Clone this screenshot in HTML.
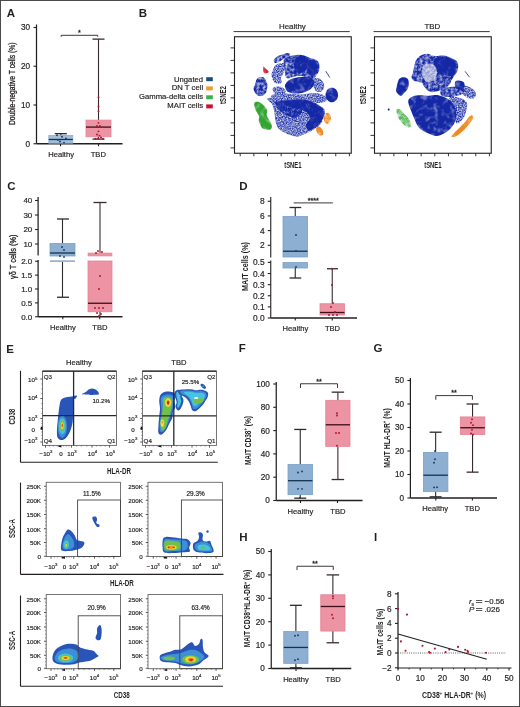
<!DOCTYPE html>
<html><head><meta charset="utf-8"><style>
html,body{margin:0;padding:0;background:#fff;}
svg{display:block;font-family:"Liberation Sans",sans-serif;will-change:transform;}
</style></head><body>
<svg width="520" height="707" viewBox="0 0 520 707">
<defs>
<filter id="spk" filterUnits="userSpaceOnUse" x="230" y="30" width="270" height="130" color-interpolation-filters="sRGB">
<feTurbulence type="fractalNoise" baseFrequency="0.35" numOctaves="2" seed="4" result="n"/>
<feColorMatrix in="n" type="matrix" values="0 0 0 0 0  0 0 0 0 0  0 0 0 0 0  1.5 0 0 0 0.0" result="a"/>
<feComposite in="SourceGraphic" in2="a" operator="in"/>
</filter>
<filter id="spkS" filterUnits="userSpaceOnUse" x="230" y="30" width="270" height="130" color-interpolation-filters="sRGB">
<feTurbulence type="fractalNoise" baseFrequency="0.8" numOctaves="2" seed="7" result="n"/>
<feColorMatrix in="n" type="matrix" values="0 0 0 0 0  0 0 0 0 0  0 0 0 0 0  1.5 0 0 0 -0.15" result="a"/>
<feComposite in="SourceGraphic" in2="a" operator="in"/>
</filter>
<filter id="spkD" filterUnits="userSpaceOnUse" x="230" y="30" width="270" height="130" color-interpolation-filters="sRGB">
<feTurbulence type="fractalNoise" baseFrequency="0.18" numOctaves="2" seed="9" result="n"/>
<feColorMatrix in="n" type="matrix" values="0 0 0 0 0  0 0 0 0 0  0 0 0 0 0  1.2 0 0 0 0.38" result="a"/>
<feComposite in="SourceGraphic" in2="a" operator="in"/>
</filter>
</defs>
<rect x="0" y="0" width="520" height="707" fill="#fff"/>
<rect x="0.5" y="0.5" width="519" height="706" fill="none" stroke="#4a4a4a" stroke-width="1"/>
<text x="6.8" y="16.5" font-size="11.5" font-weight="bold" fill="#231f20">A</text>
<text x="138.8" y="16.8" font-size="11.5" font-weight="bold" fill="#231f20">B</text>
<text x="7.3" y="190.2" font-size="11.5" font-weight="bold" fill="#231f20">C</text>
<text x="239.3" y="190" font-size="11.5" font-weight="bold" fill="#231f20">D</text>
<text x="6.3" y="353" font-size="11.5" font-weight="bold" fill="#231f20">E</text>
<text x="238.8" y="352.2" font-size="11.5" font-weight="bold" fill="#231f20">F</text>
<text x="373.6" y="352.4" font-size="11.5" font-weight="bold" fill="#231f20">G</text>
<text x="239.2" y="541.2" font-size="11.5" font-weight="bold" fill="#231f20">H</text>
<text x="373.9" y="541.2" font-size="11.5" font-weight="bold" fill="#231f20">I</text>
<line x1="36.5" y1="24.5" x2="36.5" y2="143.75" stroke="#231f20" stroke-width="1.25"/>
<line x1="33.5" y1="27.5" x2="36.5" y2="27.5" stroke="#231f20" stroke-width="1.1"/>
<text x="30.1" y="30.4" font-size="8.2" text-anchor="end" fill="#231f20" stroke="#231f20" stroke-width="0.18">30</text>
<line x1="33.5" y1="66.25" x2="36.5" y2="66.25" stroke="#231f20" stroke-width="1.1"/>
<text x="30.1" y="69.15" font-size="8.2" text-anchor="end" fill="#231f20" stroke="#231f20" stroke-width="0.18">20</text>
<line x1="33.5" y1="105.0" x2="36.5" y2="105.0" stroke="#231f20" stroke-width="1.1"/>
<text x="30.1" y="107.9" font-size="8.2" text-anchor="end" fill="#231f20" stroke="#231f20" stroke-width="0.18">10</text>
<line x1="33.5" y1="143.75" x2="36.5" y2="143.75" stroke="#231f20" stroke-width="1.1"/>
<text x="30.1" y="146.65" font-size="8.2" text-anchor="end" fill="#231f20" stroke="#231f20" stroke-width="0.18">0</text>
<line x1="36.5" y1="143.75" x2="122.5" y2="143.75" stroke="#231f20" stroke-width="1.3"/>
<line x1="60.5" y1="143.75" x2="60.5" y2="146.25" stroke="#231f20" stroke-width="1.1"/>
<line x1="98.5" y1="143.75" x2="98.5" y2="146.25" stroke="#231f20" stroke-width="1.1"/>
<text transform="translate(15.3,125) rotate(-90)" font-size="9" font-weight="normal" textLength="82.6" lengthAdjust="spacingAndGlyphs" fill="#231f20" stroke="#231f20" stroke-width="0.3">Double-negative T cells (%)</text>
<line x1="60.8" y1="133.675" x2="60.8" y2="135.41875" stroke="#2a2a2a" stroke-width="1.1"/>
<line x1="54.8" y1="133.675" x2="66.8" y2="133.675" stroke="#2a2a2a" stroke-width="1.3"/>
<line x1="60.8" y1="143.16875" x2="60.8" y2="143.3625" stroke="#2a2a2a" stroke-width="1.1"/>
<line x1="54.8" y1="143.3625" x2="66.8" y2="143.3625" stroke="#2a2a2a" stroke-width="1.3"/>
<rect x="48.8" y="135.41875" width="24.0" height="7.75" fill="#a2bedb" stroke="#8cafd2" stroke-width="0.8"/>
<line x1="48.8" y1="139.4875" x2="72.8" y2="139.4875" stroke="#163252" stroke-width="1.3"/>
<line x1="98.5" y1="39.125" x2="98.5" y2="120.1125" stroke="#3a2a2e" stroke-width="1.1"/>
<line x1="92.5" y1="39.125" x2="104.5" y2="39.125" stroke="#3a2a2e" stroke-width="1.3"/>
<line x1="98.5" y1="136.775" x2="98.5" y2="139.1" stroke="#3a2a2e" stroke-width="1.1"/>
<line x1="92.5" y1="139.1" x2="104.5" y2="139.1" stroke="#3a2a2e" stroke-width="1.3"/>
<rect x="86" y="120.1125" width="25" height="16.66250000000001" fill="#ec93a4" stroke="#e58296" stroke-width="0.8"/>
<line x1="86" y1="127.0875" x2="111" y2="127.0875" stroke="#3d0f1a" stroke-width="1.3"/>
<path d="M61.2,36.8 L61.2,35.3 L97.7,35.3 L97.7,36.8" fill="none" stroke="#3a3a3a" stroke-width="1"/>
<text x="79.45" y="35.099999999999994" font-size="7.2" text-anchor="middle" fill="#231f20" stroke="#231f20" stroke-width="0.3">*</text>
<text x="61.1" y="156.9" font-size="7.6" text-anchor="middle" fill="#231f20" stroke="#231f20" stroke-width="0.18">Healthy</text>
<text x="98.3" y="156.9" font-size="7.6" text-anchor="middle" fill="#231f20" stroke="#231f20" stroke-width="0.18">TBD</text>
<circle cx="57" cy="135.225" r="0.95" fill="#1a3a6e"/>
<circle cx="62" cy="136.775" r="0.95" fill="#1a3a6e"/>
<circle cx="66" cy="138.325" r="0.95" fill="#1a3a6e"/>
<circle cx="60" cy="141.425" r="0.95" fill="#1a3a6e"/>
<circle cx="64" cy="142.5875" r="0.95" fill="#1a3a6e"/>
<circle cx="58" cy="139.875" r="0.95" fill="#1a3a6e"/>
<circle cx="98.5" cy="97.25" r="0.95" fill="#b0102c"/>
<circle cx="98.5" cy="106.55000000000001" r="0.95" fill="#b0102c"/>
<circle cx="98.5" cy="111.19999999999999" r="0.95" fill="#b0102c"/>
<circle cx="98.5" cy="122.825" r="0.95" fill="#b0102c"/>
<circle cx="97" cy="125.925" r="0.95" fill="#b0102c"/>
<circle cx="100" cy="125.925" r="0.95" fill="#b0102c"/>
<circle cx="98.5" cy="131.35" r="0.95" fill="#b0102c"/>
<circle cx="97" cy="134.45" r="0.95" fill="#b0102c"/>
<circle cx="99.5" cy="135.6125" r="0.95" fill="#b0102c"/>
<circle cx="95.5" cy="138.7125" r="0.95" fill="#b0102c"/>
<circle cx="98" cy="138.325" r="0.95" fill="#b0102c"/>
<circle cx="101" cy="137.55" r="0.95" fill="#b0102c"/>
<circle cx="103" cy="138.7125" r="0.95" fill="#b0102c"/>
<line x1="38.1" y1="197" x2="38.1" y2="255.5" stroke="#231f20" stroke-width="1.25"/>
<line x1="38.1" y1="260" x2="38.1" y2="316.75" stroke="#231f20" stroke-width="1.25"/>
<line x1="35.1" y1="200.5" x2="38.1" y2="200.5" stroke="#231f20" stroke-width="1.1"/>
<text x="32.3" y="203.4" font-size="8.0" text-anchor="end" fill="#231f20" stroke="#231f20" stroke-width="0.18">40</text>
<line x1="35.1" y1="215.0" x2="38.1" y2="215.0" stroke="#231f20" stroke-width="1.1"/>
<text x="32.3" y="217.9" font-size="8.0" text-anchor="end" fill="#231f20" stroke="#231f20" stroke-width="0.18">30</text>
<line x1="35.1" y1="229.5" x2="38.1" y2="229.5" stroke="#231f20" stroke-width="1.1"/>
<text x="32.3" y="232.4" font-size="8.0" text-anchor="end" fill="#231f20" stroke="#231f20" stroke-width="0.18">20</text>
<line x1="35.1" y1="244.0" x2="38.1" y2="244.0" stroke="#231f20" stroke-width="1.1"/>
<text x="32.3" y="246.9" font-size="8.0" text-anchor="end" fill="#231f20" stroke="#231f20" stroke-width="0.18">10</text>
<line x1="35.1" y1="261.25" x2="38.1" y2="261.25" stroke="#231f20" stroke-width="1.1"/>
<text x="32.3" y="264.15" font-size="8.0" text-anchor="end" fill="#231f20" stroke="#231f20" stroke-width="0.18">2.0</text>
<line x1="35.1" y1="275.125" x2="38.1" y2="275.125" stroke="#231f20" stroke-width="1.1"/>
<text x="32.3" y="278.025" font-size="8.0" text-anchor="end" fill="#231f20" stroke="#231f20" stroke-width="0.18">1.5</text>
<line x1="35.1" y1="289.0" x2="38.1" y2="289.0" stroke="#231f20" stroke-width="1.1"/>
<text x="32.3" y="291.9" font-size="8.0" text-anchor="end" fill="#231f20" stroke="#231f20" stroke-width="0.18">1.0</text>
<line x1="35.1" y1="302.875" x2="38.1" y2="302.875" stroke="#231f20" stroke-width="1.1"/>
<text x="32.3" y="305.775" font-size="8.0" text-anchor="end" fill="#231f20" stroke="#231f20" stroke-width="0.18">0.5</text>
<line x1="35.1" y1="316.75" x2="38.1" y2="316.75" stroke="#231f20" stroke-width="1.1"/>
<text x="32.3" y="319.65" font-size="8.0" text-anchor="end" fill="#231f20" stroke="#231f20" stroke-width="0.18">0.0</text>
<line x1="38.1" y1="316.75" x2="122.5" y2="316.75" stroke="#231f20" stroke-width="1.3"/>
<line x1="62.8" y1="316.75" x2="62.8" y2="319.25" stroke="#231f20" stroke-width="1.1"/>
<line x1="99.7" y1="316.75" x2="99.7" y2="319.25" stroke="#231f20" stroke-width="1.1"/>
<text transform="translate(16.2,279) rotate(-90)" font-size="8.5" font-weight="normal" textLength="44.5" lengthAdjust="spacingAndGlyphs" fill="#231f20" stroke="#231f20" stroke-width="0.3">γδ T cells (%)</text>
<text x="62.85" y="330.1" font-size="7.6" text-anchor="middle" fill="#231f20" stroke="#231f20" stroke-width="0.18">Healthy</text>
<text x="99.85" y="330.1" font-size="7.6" text-anchor="middle" fill="#231f20" stroke="#231f20" stroke-width="0.18">TBD</text>
<line x1="62.5" y1="219" x2="62.5" y2="243.5" stroke="#2a2a2a" stroke-width="1.1"/>
<line x1="57" y1="219" x2="69" y2="219" stroke="#2a2a2a" stroke-width="1.3"/>
<rect x="50" y="243.5" width="25" height="12.5" fill="#8cafd2" stroke="#7aa0c8" stroke-width="0.8"/>
<line x1="50" y1="253" x2="75" y2="253" stroke="#163252" stroke-width="1.3"/>
<rect x="50" y="260.5" width="25" height="1.5" fill="#8cafd2" stroke="none" stroke-width="1"/>
<line x1="50" y1="261.2" x2="75" y2="261.2" stroke="#9ab5d2" stroke-width="1.4"/>
<line x1="62.5" y1="262" x2="62.5" y2="297.25" stroke="#2a2a2a" stroke-width="1.1"/>
<line x1="57" y1="297.25" x2="69" y2="297.25" stroke="#2a2a2a" stroke-width="1.3"/>
<circle cx="62" cy="247" r="0.95" fill="#1a3a6e"/>
<circle cx="64" cy="250" r="0.95" fill="#1a3a6e"/>
<circle cx="60" cy="256" r="0.95" fill="#1a3a6e"/>
<circle cx="64" cy="257" r="0.95" fill="#1a3a6e"/>
<line x1="100" y1="202.5" x2="100" y2="253" stroke="#3a2a2e" stroke-width="1.1"/>
<line x1="93.5" y1="202.5" x2="106.5" y2="202.5" stroke="#3a2a2e" stroke-width="1.3"/>
<rect x="88" y="253" width="24" height="3" fill="#ec93a4" stroke="#e58296" stroke-width="0.6"/>
<rect x="88" y="261" width="24" height="50.75" fill="#ec93a4" stroke="#e58296" stroke-width="0.8"/>
<line x1="88" y1="303.25" x2="112" y2="303.25" stroke="#3d0f1a" stroke-width="1.3"/>
<line x1="100" y1="311.75" x2="100" y2="316" stroke="#3a2a2e" stroke-width="1.1"/>
<circle cx="98" cy="251" r="0.95" fill="#b0102c"/>
<circle cx="102" cy="252" r="0.95" fill="#b0102c"/>
<circle cx="96" cy="253" r="0.95" fill="#b0102c"/>
<circle cx="100" cy="276" r="0.95" fill="#b0102c"/>
<circle cx="99" cy="289" r="0.95" fill="#b0102c"/>
<circle cx="95" cy="308" r="0.95" fill="#b0102c"/>
<circle cx="99" cy="308" r="0.95" fill="#b0102c"/>
<circle cx="103" cy="308" r="0.95" fill="#b0102c"/>
<circle cx="97" cy="313" r="0.95" fill="#b0102c"/>
<circle cx="101" cy="314" r="0.95" fill="#b0102c"/>
<circle cx="99" cy="316" r="0.95" fill="#b0102c"/>
<line x1="270.75" y1="197" x2="270.75" y2="257.5" stroke="#231f20" stroke-width="1.1"/>
<line x1="270.75" y1="260.5" x2="270.75" y2="318" stroke="#231f20" stroke-width="1.1"/>
<line x1="267.75" y1="201.26999999999998" x2="270.75" y2="201.26999999999998" stroke="#231f20" stroke-width="1.1"/>
<text x="264.6" y="204.26999999999998" font-size="8.4" text-anchor="end" fill="#231f20" stroke="#231f20" stroke-width="0.18">8</text>
<line x1="267.75" y1="215.93" x2="270.75" y2="215.93" stroke="#231f20" stroke-width="1.1"/>
<text x="264.6" y="218.93" font-size="8.4" text-anchor="end" fill="#231f20" stroke="#231f20" stroke-width="0.18">6</text>
<line x1="267.75" y1="230.59" x2="270.75" y2="230.59" stroke="#231f20" stroke-width="1.1"/>
<text x="264.6" y="233.59" font-size="8.4" text-anchor="end" fill="#231f20" stroke="#231f20" stroke-width="0.18">4</text>
<line x1="267.75" y1="245.25" x2="270.75" y2="245.25" stroke="#231f20" stroke-width="1.1"/>
<text x="264.6" y="248.25" font-size="8.4" text-anchor="end" fill="#231f20" stroke="#231f20" stroke-width="0.18">2</text>
<line x1="267.75" y1="262.4" x2="270.75" y2="262.4" stroke="#231f20" stroke-width="1.1"/>
<text x="264.6" y="265.4" font-size="8.4" text-anchor="end" fill="#231f20" stroke="#231f20" stroke-width="0.18">0.5</text>
<line x1="267.75" y1="273.52" x2="270.75" y2="273.52" stroke="#231f20" stroke-width="1.1"/>
<text x="264.6" y="276.52" font-size="8.4" text-anchor="end" fill="#231f20" stroke="#231f20" stroke-width="0.18">0.4</text>
<line x1="267.75" y1="284.64" x2="270.75" y2="284.64" stroke="#231f20" stroke-width="1.1"/>
<text x="264.6" y="287.64" font-size="8.4" text-anchor="end" fill="#231f20" stroke="#231f20" stroke-width="0.18">0.3</text>
<line x1="267.75" y1="295.76" x2="270.75" y2="295.76" stroke="#231f20" stroke-width="1.1"/>
<text x="264.6" y="298.76" font-size="8.4" text-anchor="end" fill="#231f20" stroke="#231f20" stroke-width="0.18">0.2</text>
<line x1="267.75" y1="306.88" x2="270.75" y2="306.88" stroke="#231f20" stroke-width="1.1"/>
<text x="264.6" y="309.88" font-size="8.4" text-anchor="end" fill="#231f20" stroke="#231f20" stroke-width="0.18">0.1</text>
<line x1="267.75" y1="318.0" x2="270.75" y2="318.0" stroke="#231f20" stroke-width="1.1"/>
<text x="264.6" y="321.0" font-size="8.4" text-anchor="end" fill="#231f20" stroke="#231f20" stroke-width="0.18">0.0</text>
<line x1="270.75" y1="318" x2="357" y2="318" stroke="#231f20" stroke-width="1.3"/>
<line x1="295.25" y1="318" x2="295.25" y2="320.5" stroke="#231f20" stroke-width="1.1"/>
<line x1="332.25" y1="318" x2="332.25" y2="320.5" stroke="#231f20" stroke-width="1.1"/>
<text transform="translate(247.5,291) rotate(-90)" font-size="8.8" font-weight="bold" textLength="49" lengthAdjust="spacingAndGlyphs" fill="#231f20">MAIT cells (%)</text>
<text x="295.4" y="330.8" font-size="7.6" text-anchor="middle" fill="#231f20" stroke="#231f20" stroke-width="0.18">Healthy</text>
<text x="332.5" y="330.8" font-size="7.6" text-anchor="middle" fill="#231f20" stroke="#231f20" stroke-width="0.18">TBD</text>
<path d="M293.7,202.9 L293.7,202.9 L332.9,202.9 L332.9,202.9" fill="none" stroke="#3a3a3a" stroke-width="1"/>
<text x="313.29999999999995" y="202.70000000000002" font-size="7.2" text-anchor="middle" fill="#231f20" stroke="#231f20" stroke-width="0.3">****</text>
<line x1="295.25" y1="207.5" x2="295.25" y2="216.5" stroke="#2a2a2a" stroke-width="1.1"/>
<line x1="289.5" y1="207.5" x2="301.25" y2="207.5" stroke="#2a2a2a" stroke-width="1.3"/>
<rect x="283" y="216.5" width="24.5" height="40.5" fill="#8cafd2" stroke="#7aa0c8" stroke-width="0.8"/>
<line x1="283" y1="251.25" x2="307.5" y2="251.25" stroke="#163252" stroke-width="1.3"/>
<rect x="283" y="262.5" width="24.5" height="5.5" fill="#8cafd2" stroke="#7aa0c8" stroke-width="0.8"/>
<line x1="295.25" y1="268" x2="295.25" y2="278" stroke="#2a2a2a" stroke-width="1.1"/>
<line x1="289.5" y1="278" x2="301.25" y2="278" stroke="#2a2a2a" stroke-width="1.3"/>
<circle cx="296" cy="235" r="0.95" fill="#1a3a6e"/>
<circle cx="296" cy="251" r="0.95" fill="#1a3a6e"/>
<circle cx="296" cy="267" r="0.95" fill="#1a3a6e"/>
<line x1="332.25" y1="268.75" x2="332.25" y2="303.75" stroke="#3a2a2e" stroke-width="1.1"/>
<line x1="327" y1="268.75" x2="338" y2="268.75" stroke="#3a2a2e" stroke-width="1.3"/>
<rect x="320" y="303.75" width="24.5" height="11.25" fill="#ec93a4" stroke="#e58296" stroke-width="0.8"/>
<line x1="320" y1="312.5" x2="344.5" y2="312.5" stroke="#3d0f1a" stroke-width="1.3"/>
<circle cx="332" cy="268.75" r="0.95" fill="#b0102c"/>
<circle cx="332" cy="285" r="0.95" fill="#b0102c"/>
<circle cx="333" cy="303" r="0.95" fill="#b0102c"/>
<circle cx="331" cy="307" r="0.95" fill="#b0102c"/>
<circle cx="329" cy="315" r="0.95" fill="#b0102c"/>
<circle cx="333" cy="315" r="0.95" fill="#b0102c"/>
<circle cx="337" cy="315" r="0.95" fill="#b0102c"/>
<circle cx="335" cy="312" r="0.95" fill="#b0102c"/>
<line x1="276.25" y1="382" x2="276.25" y2="500.5" stroke="#231f20" stroke-width="1.25"/>
<line x1="273.25" y1="384.0" x2="276.25" y2="384.0" stroke="#231f20" stroke-width="1.1"/>
<text x="269.85" y="386.9" font-size="8.2" text-anchor="end" fill="#231f20" stroke="#231f20" stroke-width="0.18">100</text>
<line x1="273.25" y1="407.3" x2="276.25" y2="407.3" stroke="#231f20" stroke-width="1.1"/>
<text x="269.85" y="410.2" font-size="8.2" text-anchor="end" fill="#231f20" stroke="#231f20" stroke-width="0.18">80</text>
<line x1="273.25" y1="430.6" x2="276.25" y2="430.6" stroke="#231f20" stroke-width="1.1"/>
<text x="269.85" y="433.5" font-size="8.2" text-anchor="end" fill="#231f20" stroke="#231f20" stroke-width="0.18">60</text>
<line x1="273.25" y1="453.9" x2="276.25" y2="453.9" stroke="#231f20" stroke-width="1.1"/>
<text x="269.85" y="456.79999999999995" font-size="8.2" text-anchor="end" fill="#231f20" stroke="#231f20" stroke-width="0.18">40</text>
<line x1="273.25" y1="477.2" x2="276.25" y2="477.2" stroke="#231f20" stroke-width="1.1"/>
<text x="269.85" y="480.09999999999997" font-size="8.2" text-anchor="end" fill="#231f20" stroke="#231f20" stroke-width="0.18">20</text>
<line x1="273.25" y1="500.5" x2="276.25" y2="500.5" stroke="#231f20" stroke-width="1.1"/>
<text x="269.85" y="503.4" font-size="8.2" text-anchor="end" fill="#231f20" stroke="#231f20" stroke-width="0.18">0</text>
<line x1="276.25" y1="500.5" x2="362.5" y2="500.5" stroke="#231f20" stroke-width="1.3"/>
<line x1="300.5" y1="500.5" x2="300.5" y2="503.0" stroke="#231f20" stroke-width="1.1"/>
<line x1="337.5" y1="500.5" x2="337.5" y2="503.0" stroke="#231f20" stroke-width="1.1"/>
<text transform="translate(250.5,465.1) rotate(-90)" font-size="8.8" font-weight="bold" textLength="49" lengthAdjust="spacingAndGlyphs" fill="#231f20">MAIT CD38<tspan dy="-3.2" font-size="5.5">+</tspan><tspan dy="3.2"> (%)</tspan></text>
<text x="300.4" y="513.5" font-size="7.6" text-anchor="middle" fill="#231f20" stroke="#231f20" stroke-width="0.18">Healthy</text>
<text x="337.9" y="513.5" font-size="7.6" text-anchor="middle" fill="#231f20" stroke="#231f20" stroke-width="0.18">TBD</text>
<path d="M300.5,387.95 L300.5,383.75 L337.5,383.75 L337.5,387.95" fill="none" stroke="#3a3a3a" stroke-width="1"/>
<text x="319.0" y="383.55" font-size="7.2" text-anchor="middle" fill="#231f20" stroke="#231f20" stroke-width="0.3">**</text>
<line x1="300.25" y1="429.435" x2="300.25" y2="464.385" stroke="#2a2a2a" stroke-width="1.1"/>
<line x1="294.25" y1="429.435" x2="306.25" y2="429.435" stroke="#2a2a2a" stroke-width="1.3"/>
<line x1="300.25" y1="494.675" x2="300.25" y2="498.17" stroke="#2a2a2a" stroke-width="1.1"/>
<line x1="294.25" y1="498.17" x2="306.25" y2="498.17" stroke="#2a2a2a" stroke-width="1.3"/>
<rect x="288" y="464.385" width="24.5" height="30.29000000000002" fill="#8cafd2" stroke="#7aa0c8" stroke-width="0.8"/>
<line x1="288" y1="480.695" x2="312.5" y2="480.695" stroke="#163252" stroke-width="1.3"/>
<line x1="337.875" y1="392.155" x2="337.875" y2="400.31" stroke="#3a2a2e" stroke-width="1.1"/>
<line x1="331.625" y1="392.155" x2="344.125" y2="392.155" stroke="#3a2a2e" stroke-width="1.3"/>
<line x1="337.875" y1="446.3275" x2="337.875" y2="479.53" stroke="#3a2a2e" stroke-width="1.1"/>
<line x1="331.625" y1="479.53" x2="344.125" y2="479.53" stroke="#3a2a2e" stroke-width="1.3"/>
<rect x="325.75" y="400.31" width="24.25" height="46.017499999999984" fill="#ec93a4" stroke="#e58296" stroke-width="0.8"/>
<line x1="325.75" y1="424.775" x2="350" y2="424.775" stroke="#3d0f1a" stroke-width="1.3"/>
<circle cx="298" cy="472.54" r="0.95" fill="#1a3a6e"/>
<circle cx="302" cy="471.375" r="0.95" fill="#1a3a6e"/>
<circle cx="298" cy="488.85" r="0.95" fill="#1a3a6e"/>
<circle cx="302" cy="488.85" r="0.95" fill="#1a3a6e"/>
<circle cx="300" cy="497.5875" r="0.95" fill="#1a3a6e"/>
<circle cx="337" cy="413.125" r="0.95" fill="#b0102c"/>
<circle cx="337" cy="415.455" r="0.95" fill="#b0102c"/>
<circle cx="336" cy="432.93" r="0.95" fill="#b0102c"/>
<circle cx="339" cy="432.93" r="0.95" fill="#b0102c"/>
<circle cx="337" cy="445.745" r="0.95" fill="#b0102c"/>
<line x1="410.4" y1="378" x2="410.4" y2="498" stroke="#231f20" stroke-width="1.25"/>
<line x1="407.4" y1="380.5" x2="410.4" y2="380.5" stroke="#231f20" stroke-width="1.1"/>
<text x="404.0" y="383.4" font-size="8.2" text-anchor="end" fill="#231f20" stroke="#231f20" stroke-width="0.18">50</text>
<line x1="407.4" y1="404.0" x2="410.4" y2="404.0" stroke="#231f20" stroke-width="1.1"/>
<text x="404.0" y="406.9" font-size="8.2" text-anchor="end" fill="#231f20" stroke="#231f20" stroke-width="0.18">40</text>
<line x1="407.4" y1="427.5" x2="410.4" y2="427.5" stroke="#231f20" stroke-width="1.1"/>
<text x="404.0" y="430.4" font-size="8.2" text-anchor="end" fill="#231f20" stroke="#231f20" stroke-width="0.18">30</text>
<line x1="407.4" y1="451.0" x2="410.4" y2="451.0" stroke="#231f20" stroke-width="1.1"/>
<text x="404.0" y="453.9" font-size="8.2" text-anchor="end" fill="#231f20" stroke="#231f20" stroke-width="0.18">20</text>
<line x1="407.4" y1="474.5" x2="410.4" y2="474.5" stroke="#231f20" stroke-width="1.1"/>
<text x="404.0" y="477.4" font-size="8.2" text-anchor="end" fill="#231f20" stroke="#231f20" stroke-width="0.18">10</text>
<line x1="407.4" y1="498.0" x2="410.4" y2="498.0" stroke="#231f20" stroke-width="1.1"/>
<text x="404.0" y="500.9" font-size="8.2" text-anchor="end" fill="#231f20" stroke="#231f20" stroke-width="0.18">0</text>
<line x1="410.4" y1="498" x2="497" y2="498" stroke="#231f20" stroke-width="1.3"/>
<line x1="435.8" y1="498" x2="435.8" y2="500.5" stroke="#231f20" stroke-width="1.1"/>
<line x1="472.4" y1="498" x2="472.4" y2="500.5" stroke="#231f20" stroke-width="1.1"/>
<text transform="translate(389.5,467.7) rotate(-90)" font-size="8.8" font-weight="bold" textLength="59.5" lengthAdjust="spacingAndGlyphs" fill="#231f20">MAIT HLA-DR<tspan dy="-3.2" font-size="5.5">+</tspan><tspan dy="3.2"> (%)</tspan></text>
<text x="435.2" y="510.8" font-size="7.6" text-anchor="middle" fill="#231f20" stroke="#231f20" stroke-width="0.18">Healthy</text>
<text x="472.3" y="510.8" font-size="7.6" text-anchor="middle" fill="#231f20" stroke="#231f20" stroke-width="0.18">TBD</text>
<path d="M435.8,399.8 L435.8,395.6 L472.4,395.6 L472.4,399.8" fill="none" stroke="#3a3a3a" stroke-width="1"/>
<text x="454.1" y="395.40000000000003" font-size="7.2" text-anchor="middle" fill="#231f20" stroke="#231f20" stroke-width="0.3">**</text>
<line x1="435.65" y1="432.2" x2="435.65" y2="452.41" stroke="#2a2a2a" stroke-width="1.1"/>
<line x1="429.65" y1="432.2" x2="441.65" y2="432.2" stroke="#2a2a2a" stroke-width="1.3"/>
<line x1="435.65" y1="491.655" x2="435.65" y2="496.825" stroke="#2a2a2a" stroke-width="1.1"/>
<line x1="429.65" y1="496.825" x2="441.65" y2="496.825" stroke="#2a2a2a" stroke-width="1.3"/>
<rect x="423.4" y="452.41" width="24.5" height="39.24499999999995" fill="#8cafd2" stroke="#7aa0c8" stroke-width="0.8"/>
<line x1="423.4" y1="475.205" x2="447.9" y2="475.205" stroke="#163252" stroke-width="1.3"/>
<line x1="472.55" y1="404.0" x2="472.55" y2="416.925" stroke="#3a2a2e" stroke-width="1.1"/>
<line x1="466.55" y1="404.0" x2="478.55" y2="404.0" stroke="#3a2a2e" stroke-width="1.3"/>
<line x1="472.55" y1="434.55" x2="472.55" y2="472.15" stroke="#3a2a2e" stroke-width="1.1"/>
<line x1="466.55" y1="472.15" x2="478.55" y2="472.15" stroke="#3a2a2e" stroke-width="1.3"/>
<rect x="460.3" y="416.925" width="24.5" height="17.625" fill="#ec93a4" stroke="#e58296" stroke-width="0.8"/>
<line x1="460.3" y1="427.735" x2="484.8" y2="427.735" stroke="#3d0f1a" stroke-width="1.3"/>
<circle cx="435" cy="451.0" r="0.95" fill="#1a3a6e"/>
<circle cx="435" cy="459.225" r="0.95" fill="#1a3a6e"/>
<circle cx="434" cy="462.75" r="0.95" fill="#1a3a6e"/>
<circle cx="434" cy="487.425" r="0.95" fill="#1a3a6e"/>
<circle cx="437" cy="487.19" r="0.95" fill="#1a3a6e"/>
<circle cx="436" cy="496.825" r="0.95" fill="#1a3a6e"/>
<circle cx="472" cy="419.275" r="0.95" fill="#b0102c"/>
<circle cx="471" cy="422.8" r="0.95" fill="#b0102c"/>
<circle cx="473" cy="425.15" r="0.95" fill="#b0102c"/>
<circle cx="472" cy="429.85" r="0.95" fill="#b0102c"/>
<circle cx="471" cy="433.375" r="0.95" fill="#b0102c"/>
<circle cx="473" cy="434.55" r="0.95" fill="#b0102c"/>
<line x1="271.25" y1="549" x2="271.25" y2="668.5" stroke="#231f20" stroke-width="1.25"/>
<line x1="268.25" y1="551.5" x2="271.25" y2="551.5" stroke="#231f20" stroke-width="1.1"/>
<text x="264.85" y="554.4" font-size="8.2" text-anchor="end" fill="#231f20" stroke="#231f20" stroke-width="0.18">50</text>
<line x1="268.25" y1="574.9" x2="271.25" y2="574.9" stroke="#231f20" stroke-width="1.1"/>
<text x="264.85" y="577.8" font-size="8.2" text-anchor="end" fill="#231f20" stroke="#231f20" stroke-width="0.18">40</text>
<line x1="268.25" y1="598.3" x2="271.25" y2="598.3" stroke="#231f20" stroke-width="1.1"/>
<text x="264.85" y="601.1999999999999" font-size="8.2" text-anchor="end" fill="#231f20" stroke="#231f20" stroke-width="0.18">30</text>
<line x1="268.25" y1="621.7" x2="271.25" y2="621.7" stroke="#231f20" stroke-width="1.1"/>
<text x="264.85" y="624.6" font-size="8.2" text-anchor="end" fill="#231f20" stroke="#231f20" stroke-width="0.18">20</text>
<line x1="268.25" y1="645.1" x2="271.25" y2="645.1" stroke="#231f20" stroke-width="1.1"/>
<text x="264.85" y="648.0" font-size="8.2" text-anchor="end" fill="#231f20" stroke="#231f20" stroke-width="0.18">10</text>
<line x1="268.25" y1="668.5" x2="271.25" y2="668.5" stroke="#231f20" stroke-width="1.1"/>
<text x="264.85" y="671.4" font-size="8.2" text-anchor="end" fill="#231f20" stroke="#231f20" stroke-width="0.18">0</text>
<line x1="271.25" y1="668.5" x2="351.25" y2="668.5" stroke="#231f20" stroke-width="1.3"/>
<line x1="296" y1="668.5" x2="296" y2="671.0" stroke="#231f20" stroke-width="1.1"/>
<line x1="333" y1="668.5" x2="333" y2="671.0" stroke="#231f20" stroke-width="1.1"/>
<text transform="translate(250,647.2) rotate(-90)" font-size="8.8" font-weight="bold" textLength="77.5" lengthAdjust="spacingAndGlyphs" fill="#231f20">MAIT CD38<tspan dy="-3.2" font-size="5.5">+</tspan><tspan dy="3.2">HLA-DR</tspan><tspan dy="-3.2" font-size="5.5">+</tspan><tspan dy="3.2"> (%)</tspan></text>
<text x="296" y="681.5" font-size="7.6" text-anchor="middle" fill="#231f20" stroke="#231f20" stroke-width="0.18">Healthy</text>
<text x="333.2" y="681.5" font-size="7.6" text-anchor="middle" fill="#231f20" stroke="#231f20" stroke-width="0.18">TBD</text>
<path d="M297,570.05 L297,566.25 L333.25,566.25 L333.25,570.05" fill="none" stroke="#3a3a3a" stroke-width="1"/>
<text x="315.125" y="566.05" font-size="7.2" text-anchor="middle" fill="#231f20" stroke="#231f20" stroke-width="0.3">**</text>
<line x1="295.875" y1="605.32" x2="295.875" y2="631.528" stroke="#2a2a2a" stroke-width="1.1"/>
<line x1="289.875" y1="605.32" x2="301.875" y2="605.32" stroke="#2a2a2a" stroke-width="1.3"/>
<line x1="295.875" y1="663.352" x2="295.875" y2="667.798" stroke="#2a2a2a" stroke-width="1.1"/>
<line x1="289.875" y1="667.798" x2="301.875" y2="667.798" stroke="#2a2a2a" stroke-width="1.3"/>
<rect x="283.75" y="631.528" width="24.25" height="31.823999999999955" fill="#8cafd2" stroke="#7aa0c8" stroke-width="0.8"/>
<line x1="283.75" y1="647.44" x2="308" y2="647.44" stroke="#163252" stroke-width="1.3"/>
<line x1="332.875" y1="574.9" x2="332.875" y2="594.79" stroke="#3a2a2e" stroke-width="1.1"/>
<line x1="326.625" y1="574.9" x2="339.125" y2="574.9" stroke="#3a2a2e" stroke-width="1.3"/>
<line x1="332.875" y1="631.06" x2="332.875" y2="642.76" stroke="#3a2a2e" stroke-width="1.1"/>
<line x1="326.625" y1="642.76" x2="339.125" y2="642.76" stroke="#3a2a2e" stroke-width="1.3"/>
<rect x="320.75" y="594.79" width="24.25" height="36.26999999999998" fill="#ec93a4" stroke="#e58296" stroke-width="0.8"/>
<line x1="320.75" y1="606.49" x2="345" y2="606.49" stroke="#3d0f1a" stroke-width="1.3"/>
<circle cx="295" cy="635.74" r="0.95" fill="#1a3a6e"/>
<circle cx="298" cy="635.272" r="0.95" fill="#1a3a6e"/>
<circle cx="295" cy="660.31" r="0.95" fill="#1a3a6e"/>
<circle cx="298" cy="659.14" r="0.95" fill="#1a3a6e"/>
<circle cx="296" cy="667.564" r="0.95" fill="#1a3a6e"/>
<circle cx="333" cy="595.96" r="0.95" fill="#b0102c"/>
<circle cx="333" cy="598.3" r="0.95" fill="#b0102c"/>
<circle cx="332" cy="614.6800000000001" r="0.95" fill="#b0102c"/>
<circle cx="333" cy="618.19" r="0.95" fill="#b0102c"/>
<line x1="398" y1="592" x2="398" y2="668.5" stroke="#231f20" stroke-width="1.25"/>
<line x1="395" y1="593.8" x2="398" y2="593.8" stroke="#231f20" stroke-width="1.1"/>
<text x="391.6" y="596.6999999999999" font-size="8.2" text-anchor="end" fill="#231f20" stroke="#231f20" stroke-width="0.18">8</text>
<line x1="395" y1="608.6" x2="398" y2="608.6" stroke="#231f20" stroke-width="1.1"/>
<text x="391.6" y="611.5" font-size="8.2" text-anchor="end" fill="#231f20" stroke="#231f20" stroke-width="0.18">6</text>
<line x1="395" y1="623.4" x2="398" y2="623.4" stroke="#231f20" stroke-width="1.1"/>
<text x="391.6" y="626.3" font-size="8.2" text-anchor="end" fill="#231f20" stroke="#231f20" stroke-width="0.18">4</text>
<line x1="395" y1="638.2" x2="398" y2="638.2" stroke="#231f20" stroke-width="1.1"/>
<text x="391.6" y="641.1" font-size="8.2" text-anchor="end" fill="#231f20" stroke="#231f20" stroke-width="0.18">2</text>
<line x1="395" y1="653.0" x2="398" y2="653.0" stroke="#231f20" stroke-width="1.1"/>
<text x="391.6" y="655.9" font-size="8.2" text-anchor="end" fill="#231f20" stroke="#231f20" stroke-width="0.18">0</text>
<line x1="395" y1="667.8" x2="398" y2="667.8" stroke="#231f20" stroke-width="1.1"/>
<text x="391.6" y="670.6999999999999" font-size="8.2" text-anchor="end" fill="#231f20" stroke="#231f20" stroke-width="0.18">−2</text>
<line x1="398" y1="668" x2="511.5" y2="668" stroke="#231f20" stroke-width="1.1"/>
<line x1="398.0" y1="668" x2="398.0" y2="670.5" stroke="#231f20" stroke-width="1.1"/>
<text x="398.0" y="681" font-size="8.2" text-anchor="middle" fill="#231f20" stroke="#231f20" stroke-width="0.18">0</text>
<line x1="420.2" y1="668" x2="420.2" y2="670.5" stroke="#231f20" stroke-width="1.1"/>
<text x="420.2" y="681" font-size="8.2" text-anchor="middle" fill="#231f20" stroke="#231f20" stroke-width="0.18">10</text>
<line x1="442.4" y1="668" x2="442.4" y2="670.5" stroke="#231f20" stroke-width="1.1"/>
<text x="442.4" y="681" font-size="8.2" text-anchor="middle" fill="#231f20" stroke="#231f20" stroke-width="0.18">20</text>
<line x1="464.6" y1="668" x2="464.6" y2="670.5" stroke="#231f20" stroke-width="1.1"/>
<text x="464.6" y="681" font-size="8.2" text-anchor="middle" fill="#231f20" stroke="#231f20" stroke-width="0.18">30</text>
<line x1="486.8" y1="668" x2="486.8" y2="670.5" stroke="#231f20" stroke-width="1.1"/>
<text x="486.8" y="681" font-size="8.2" text-anchor="middle" fill="#231f20" stroke="#231f20" stroke-width="0.18">40</text>
<line x1="509.0" y1="668" x2="509.0" y2="670.5" stroke="#231f20" stroke-width="1.1"/>
<text x="509.0" y="681" font-size="8.2" text-anchor="middle" fill="#231f20" stroke="#231f20" stroke-width="0.18">50</text>
<line x1="409.1" y1="668" x2="409.1" y2="669.5" stroke="#231f20" stroke-width="0.8"/>
<line x1="431.3" y1="668" x2="431.3" y2="669.5" stroke="#231f20" stroke-width="0.8"/>
<line x1="453.5" y1="668" x2="453.5" y2="669.5" stroke="#231f20" stroke-width="0.8"/>
<line x1="475.7" y1="668" x2="475.7" y2="669.5" stroke="#231f20" stroke-width="0.8"/>
<line x1="497.9" y1="668" x2="497.9" y2="669.5" stroke="#231f20" stroke-width="0.8"/>
<text transform="translate(382.8,655.6) rotate(-90)" font-size="8.8" font-weight="bold" textLength="47" lengthAdjust="spacingAndGlyphs" fill="#231f20">MAIT cells (%)</text>
<text x="422.0" y="697.7" font-size="9.5" font-weight="bold" textLength="64" lengthAdjust="spacingAndGlyphs" fill="#231f20">CD38<tspan dy="-3.2" font-size="5.5">+</tspan><tspan dy="3.2"> HLA-DR</tspan><tspan dy="-3.2" font-size="5.5">+</tspan><tspan dy="3.2"> (%)</tspan></text>
<line x1="398" y1="653" x2="506" y2="653" stroke="#3a3a3a" stroke-width="0.9" stroke-dasharray="0.9,1.3"/>
<line x1="398" y1="634" x2="486.8" y2="659.3" stroke="#231f20" stroke-width="1.1"/>
<circle cx="398" cy="608.8" r="1.05" fill="#b0102c"/>
<circle cx="407" cy="614.6" r="1.05" fill="#b0102c"/>
<circle cx="400.9" cy="641.4" r="1.05" fill="#b0102c"/>
<circle cx="405.5" cy="650.7" r="1.05" fill="#b0102c"/>
<circle cx="422.5" cy="645.8" r="1.05" fill="#b0102c"/>
<circle cx="429.1" cy="652.1" r="1.05" fill="#b0102c"/>
<circle cx="430" cy="652.8" r="1.05" fill="#b0102c"/>
<circle cx="434.9" cy="648.6" r="1.05" fill="#b0102c"/>
<circle cx="445.6" cy="652.1" r="1.05" fill="#b0102c"/>
<circle cx="449.3" cy="649.5" r="1.05" fill="#b0102c"/>
<circle cx="458" cy="646.9" r="1.05" fill="#b0102c"/>
<circle cx="465.2" cy="649.8" r="1.05" fill="#b0102c"/>
<circle cx="467.5" cy="650.7" r="1.05" fill="#b0102c"/>
<circle cx="468" cy="652" r="1.05" fill="#b0102c"/>
<circle cx="486" cy="652.7" r="1.05" fill="#b0102c"/>
<text x="469" y="604" font-size="8" fill="#231f20" font-style="italic" stroke="#231f20" stroke-width="0.18">r</text>
<text x="471.6" y="605.6" font-size="5" fill="#231f20" stroke="#231f20" stroke-width="0.18">s</text>
<text x="475.6" y="604.2" font-size="8.6" textLength="7.2" lengthAdjust="spacingAndGlyphs" fill="#231f20" stroke="#231f20" stroke-width="0.18">=</text>
<text x="484.8" y="604" font-size="8" textLength="19.6" lengthAdjust="spacingAndGlyphs" fill="#231f20" stroke="#231f20" stroke-width="0.18">−0.56</text>
<text x="469" y="611.6" font-size="8" fill="#231f20" font-style="italic" stroke="#231f20" stroke-width="0.18">P</text>
<text x="475.6" y="611.8" font-size="8.6" textLength="7.2" lengthAdjust="spacingAndGlyphs" fill="#231f20" stroke="#231f20" stroke-width="0.18">=</text>
<text x="484.4" y="611.6" font-size="8" textLength="15.6" lengthAdjust="spacingAndGlyphs" fill="#231f20" stroke="#231f20" stroke-width="0.18">.026</text>
<text x="203.1" y="81.5" font-size="7.7" text-anchor="end" fill="#231f20" stroke="#231f20" stroke-width="0.18">Ungated</text>
<rect x="206.2" y="77.2" width="6.6" height="4" fill="#1f4b78" stroke="none" stroke-width="1"/>
<text x="203.1" y="90.2" font-size="7.7" text-anchor="end" fill="#231f20" stroke="#231f20" stroke-width="0.18">DN T cell</text>
<rect x="206.2" y="86.4" width="6.6" height="4" fill="#f39a2c" stroke="none" stroke-width="1"/>
<text x="203.1" y="99" font-size="7.7" text-anchor="end" fill="#231f20" stroke="#231f20" stroke-width="0.18">Gamma-delta cells</text>
<rect x="206.2" y="95.3" width="6.6" height="4" fill="#3fae4c" stroke="none" stroke-width="1"/>
<text x="203.1" y="107.9" font-size="7.7" text-anchor="end" fill="#231f20" stroke="#231f20" stroke-width="0.18">MAIT cells</text>
<rect x="206.2" y="104.4" width="6.6" height="4" fill="#c9122e" stroke="none" stroke-width="1"/>
<line x1="233.5" y1="31.6" x2="349.75" y2="31.6" stroke="#231f20" stroke-width="0.9"/>
<text x="292.375" y="29.3" font-size="7.9" text-anchor="middle" fill="#231f20" stroke="#231f20" stroke-width="0.18">Healthy</text>
<rect x="234.5" y="36.75" width="116.75" height="116.5" fill="none" stroke="#231f20" stroke-width="1.1"/>
<line x1="230.5" y1="47.9" x2="234.5" y2="47.9" stroke="#231f20" stroke-width="0.9"/>
<line x1="230.5" y1="60.4" x2="234.5" y2="60.4" stroke="#231f20" stroke-width="0.9"/>
<line x1="230.5" y1="72.9" x2="234.5" y2="72.9" stroke="#231f20" stroke-width="0.9"/>
<line x1="230.5" y1="85.4" x2="234.5" y2="85.4" stroke="#231f20" stroke-width="0.9"/>
<line x1="230.5" y1="97.9" x2="234.5" y2="97.9" stroke="#231f20" stroke-width="0.9"/>
<line x1="230.5" y1="110.4" x2="234.5" y2="110.4" stroke="#231f20" stroke-width="0.9"/>
<line x1="230.5" y1="122.9" x2="234.5" y2="122.9" stroke="#231f20" stroke-width="0.9"/>
<line x1="230.5" y1="135.4" x2="234.5" y2="135.4" stroke="#231f20" stroke-width="0.9"/>
<line x1="230.5" y1="147.9" x2="234.5" y2="147.9" stroke="#231f20" stroke-width="0.9"/>
<line x1="240.2" y1="153.25" x2="240.2" y2="156.25" stroke="#231f20" stroke-width="0.9"/>
<line x1="253.85" y1="153.25" x2="253.85" y2="156.25" stroke="#231f20" stroke-width="0.9"/>
<line x1="267.5" y1="153.25" x2="267.5" y2="156.25" stroke="#231f20" stroke-width="0.9"/>
<line x1="281.15" y1="153.25" x2="281.15" y2="156.25" stroke="#231f20" stroke-width="0.9"/>
<line x1="294.8" y1="153.25" x2="294.8" y2="156.25" stroke="#231f20" stroke-width="0.9"/>
<line x1="308.45" y1="153.25" x2="308.45" y2="156.25" stroke="#231f20" stroke-width="0.9"/>
<line x1="322.1" y1="153.25" x2="322.1" y2="156.25" stroke="#231f20" stroke-width="0.9"/>
<line x1="335.75" y1="153.25" x2="335.75" y2="156.25" stroke="#231f20" stroke-width="0.9"/>
<line x1="349.4" y1="153.25" x2="349.4" y2="156.25" stroke="#231f20" stroke-width="0.9"/>
<text transform="translate(225.7,103.9) rotate(-90)" font-size="8.7" font-weight="bold" textLength="17.9" lengthAdjust="spacingAndGlyphs" fill="#231f20">tSNE2</text>
<text x="284.225" y="167.7" font-size="8.2" font-weight="bold" textLength="17.3" lengthAdjust="spacingAndGlyphs" fill="#231f20">tSNE1</text>
<line x1="373.5" y1="31.6" x2="489.75" y2="31.6" stroke="#231f20" stroke-width="0.9"/>
<text x="432.375" y="29.3" font-size="7.9" text-anchor="middle" fill="#231f20" stroke="#231f20" stroke-width="0.18">TBD</text>
<rect x="374.5" y="36.75" width="116.75" height="116.5" fill="none" stroke="#231f20" stroke-width="1.1"/>
<line x1="370.5" y1="47.9" x2="374.5" y2="47.9" stroke="#231f20" stroke-width="0.9"/>
<line x1="370.5" y1="60.4" x2="374.5" y2="60.4" stroke="#231f20" stroke-width="0.9"/>
<line x1="370.5" y1="72.9" x2="374.5" y2="72.9" stroke="#231f20" stroke-width="0.9"/>
<line x1="370.5" y1="85.4" x2="374.5" y2="85.4" stroke="#231f20" stroke-width="0.9"/>
<line x1="370.5" y1="97.9" x2="374.5" y2="97.9" stroke="#231f20" stroke-width="0.9"/>
<line x1="370.5" y1="110.4" x2="374.5" y2="110.4" stroke="#231f20" stroke-width="0.9"/>
<line x1="370.5" y1="122.9" x2="374.5" y2="122.9" stroke="#231f20" stroke-width="0.9"/>
<line x1="370.5" y1="135.4" x2="374.5" y2="135.4" stroke="#231f20" stroke-width="0.9"/>
<line x1="370.5" y1="147.9" x2="374.5" y2="147.9" stroke="#231f20" stroke-width="0.9"/>
<line x1="380.2" y1="153.25" x2="380.2" y2="156.25" stroke="#231f20" stroke-width="0.9"/>
<line x1="393.84999999999997" y1="153.25" x2="393.84999999999997" y2="156.25" stroke="#231f20" stroke-width="0.9"/>
<line x1="407.5" y1="153.25" x2="407.5" y2="156.25" stroke="#231f20" stroke-width="0.9"/>
<line x1="421.15" y1="153.25" x2="421.15" y2="156.25" stroke="#231f20" stroke-width="0.9"/>
<line x1="434.8" y1="153.25" x2="434.8" y2="156.25" stroke="#231f20" stroke-width="0.9"/>
<line x1="448.45" y1="153.25" x2="448.45" y2="156.25" stroke="#231f20" stroke-width="0.9"/>
<line x1="462.1" y1="153.25" x2="462.1" y2="156.25" stroke="#231f20" stroke-width="0.9"/>
<line x1="475.75" y1="153.25" x2="475.75" y2="156.25" stroke="#231f20" stroke-width="0.9"/>
<line x1="489.4" y1="153.25" x2="489.4" y2="156.25" stroke="#231f20" stroke-width="0.9"/>
<text transform="translate(365.7,103.9) rotate(-90)" font-size="8.7" font-weight="bold" textLength="17.9" lengthAdjust="spacingAndGlyphs" fill="#231f20">tSNE2</text>
<text x="424.225" y="167.7" font-size="8.2" font-weight="bold" textLength="17.3" lengthAdjust="spacingAndGlyphs" fill="#231f20">tSNE1</text>
<g filter="url(#spkS)">
<path d="M271.5,75 C271.5,73.5 272.1,71.9 272.7,70.4 C273.3,68.9 273.9,67.0 275,65.8 C276.1,64.6 278.1,63.9 279.6,63.5 C281.1,63.1 283.3,62.7 284.2,63.5 C285.1,64.3 285.0,66.4 284.8,68.1 C284.6,69.8 283.8,72.1 283.1,73.8 C282.4,75.5 281.0,77.1 280.8,78.4 C280.6,79.8 282.1,81.0 281.9,81.9 C281.7,82.8 280.8,83.4 279.6,83.6 C278.5,83.8 276.1,83.8 275,83.1 C273.9,82.4 273.3,80.9 272.7,79.6 C272.1,78.2 271.5,76.5 271.5,75 Z" fill="#1428a6"/>
<path d="M313,80 C313.5,78.0 316.3,77.7 318,78 C319.7,78.3 322.0,80.3 323,82 C324.0,83.7 324.5,86.3 324,88 C323.5,89.7 321.5,91.7 320,92 C318.5,92.3 316.2,92.0 315,90 C313.8,88.0 312.5,82.0 313,80 Z" fill="#1428a6"/>
<path d="M273.5,87.5 C274.7,86.8 278.0,86.1 280,86.5 C282.0,86.9 284.7,88.7 285.4,90 C286.1,91.3 285.6,93.9 284,94.6 C282.4,95.3 277.8,94.6 276,94 C274.2,93.4 273.4,92.1 273,91 C272.6,89.9 272.3,88.2 273.5,87.5 Z" fill="#1428a6"/>
<path d="M272,95 C274.0,93.9 280.3,93.6 285,93.5 C289.7,93.4 295.0,94.6 300,94.5 C305.0,94.4 310.8,92.8 315,93 C319.2,93.2 323.2,94.7 325,96 C326.8,97.3 327.2,99.8 326,101 C324.8,102.2 322.3,103.0 318,103 C313.7,103.0 305.5,101.5 300,101 C294.5,100.5 289.5,100.2 285,100 C280.5,99.8 275.2,100.8 273,100 C270.8,99.2 270.0,96.1 272,95 Z" fill="#1428a6"/>
<path d="M267.3,98.6 C268.6,97.4 275.9,97.1 280,97 C284.1,96.9 288.1,97.8 292,98 C295.9,98.2 300.0,97.4 303.5,98 C307.0,98.6 310.1,100.2 312.8,101.5 C315.5,102.8 317.8,104.2 319.7,105.5 C321.6,106.8 323.4,107.7 324.3,109 C325.2,110.3 325.1,111.9 324.9,113.6 C324.7,115.3 324.0,117.5 323.1,119.4 C322.2,121.3 321.0,123.6 319.7,125.1 C318.4,126.6 316.8,127.4 315.1,128.6 C313.4,129.8 311.2,131.1 309.3,132.1 C307.4,133.1 305.4,133.7 303.5,134.4 C301.6,135.1 299.8,136.2 297.8,136.4 C295.8,136.6 293.9,136.2 291.5,135.5 C289.1,134.8 285.7,133.4 283.4,132.1 C281.1,130.8 279.0,129.3 277.7,127.4 C276.4,125.5 276.0,123.2 275.4,120.5 C274.8,117.8 274.8,114.0 274.2,111.3 C273.6,108.5 273.1,106.1 272,104 C270.9,101.9 266.0,99.8 267.3,98.6 Z" fill="#1428a6"/>
</g>
<g filter="url(#spk)">
<path d="M273.8,60 C274.2,58.9 275.8,57.5 277.3,56.5 C278.9,55.5 281.2,54.8 283.1,54.2 C285.0,53.6 287.8,52.9 288.8,53.1 C289.9,53.3 290.0,54.6 289.4,55.4 C288.8,56.2 286.6,56.9 285.4,57.7 C284.1,58.5 283.0,59.2 281.9,60 C280.8,60.8 279.6,61.8 278.5,62.3 C277.4,62.8 275.8,63.3 275,62.9 C274.2,62.5 273.4,61.1 273.8,60 Z" fill="#1428a6"/>
<path d="M284.2,58.8 C285.3,57.8 287.7,56.7 290,56 C292.3,55.3 295.8,54.9 298.1,54.8 C300.4,54.7 301.9,54.9 303.8,55.4 C305.7,55.9 307.5,56.9 309.6,57.7 C311.7,58.5 314.9,58.9 316.5,60 C318.1,61.1 319.0,62.7 319.4,64.6 C319.8,66.5 319.3,69.8 318.8,71.5 C318.3,73.2 317.3,73.8 316.5,75 C315.7,76.2 315.3,77.8 314.2,78.4 C313.1,79.0 311.0,78.6 309.6,78.4 C308.2,78.2 307.5,77.7 306.1,77.3 C304.8,76.9 303.0,76.3 301.5,76.1 C300.0,75.9 298.4,75.9 296.9,76.1 C295.4,76.3 293.8,76.9 292.3,77.3 C290.8,77.7 288.9,78.6 287.7,78.4 C286.5,78.2 285.9,77.2 285.4,76.1 C284.9,74.9 285.0,73.2 284.8,71.5 C284.6,69.8 284.4,67.3 284.2,65.8 C284.0,64.3 283.6,63.5 283.6,62.3 C283.6,61.1 283.1,59.8 284.2,58.8 Z" fill="#1428a6"/>
<path d="M256.9,78.8 C257.9,77.5 260.1,77.1 261.5,77.1 C262.9,77.1 264.0,77.5 265,78.8 C266.0,80.0 267.0,82.7 267.3,84.6 C267.6,86.5 267.1,88.9 266.7,90.4 C266.3,91.9 265.9,92.8 265,93.8 C264.1,94.8 262.9,95.9 261.5,96.1 C260.1,96.3 258.2,96.2 256.9,95 C255.6,93.8 253.8,90.9 253.5,89.2 C253.2,87.5 254.6,86.3 255.2,84.6 C255.8,82.9 255.8,80.0 256.9,78.8 Z" fill="#1428a6"/>
<path d="M276,101 C278.2,100.1 286.0,100.0 290,100.5 C294.0,101.0 298.0,102.1 300,104 C302.0,105.9 302.7,109.7 302,112 C301.3,114.3 298.3,117.3 296,118 C293.7,118.7 290.7,117.2 288,116 C285.3,114.8 281.9,112.7 280,111 C278.1,109.3 277.2,107.7 276.5,106 C275.8,104.3 273.8,101.9 276,101 Z" fill="#1428a6"/>
</g>
<g filter="url(#spkD)">
<path d="M296,58 C297.3,56.1 300.0,55.9 302,55.8 C304.0,55.7 306.8,56.1 308,57.5 C309.2,58.9 309.5,61.8 309,64 C308.5,66.2 306.8,69.5 305,71 C303.2,72.5 299.8,73.7 298,73 C296.2,72.3 294.3,69.5 294,67 C293.7,64.5 294.7,59.9 296,58 Z" fill="#1428a6"/>
<path d="M306,62 C306.8,60.7 310.2,59.8 312,60 C313.8,60.2 316.1,61.8 317,63.5 C317.9,65.2 318.0,68.1 317.5,70 C317.0,71.9 315.4,74.3 314,75 C312.6,75.7 310.2,75.2 309,74 C307.8,72.8 307.5,70.0 307,68 C306.5,66.0 305.2,63.3 306,62 Z" fill="#1428a6"/>
<path d="M285.4,84.2 C286.2,82.8 287.9,80.8 290,79.6 C292.1,78.4 295.4,77.8 298.1,77.3 C300.8,76.8 303.8,76.5 306.1,76.7 C308.4,76.9 310.5,77.5 311.9,78.4 C313.2,79.3 314.0,80.6 314.2,81.9 C314.4,83.2 314.1,85.0 313.1,86.5 C312.1,88.0 310.3,89.5 308.4,90.6 C306.5,91.7 304.0,92.4 301.5,92.9 C299.0,93.4 295.7,93.6 293.4,93.4 C291.1,93.2 289.0,92.6 287.7,91.7 C286.4,90.8 285.8,89.5 285.4,88.3 C285.0,87.0 284.6,85.7 285.4,84.2 Z" fill="#1428a6"/>
<path d="M338.1,95.0 C338.1,96.4 337.6,98.1 336.9,99.3 C336.2,100.5 334.9,101.5 333.7,101.9 C332.5,102.3 331.1,102.3 329.9,101.9 C328.7,101.5 327.4,100.5 326.7,99.3 C326.0,98.1 325.5,96.4 325.5,95.0 C325.5,93.6 326.0,91.9 326.7,90.7 C327.4,89.5 328.7,88.5 329.9,88.1 C331.1,87.7 332.5,87.7 333.7,88.1 C334.9,88.5 336.2,89.5 336.9,90.7 C337.6,91.9 338.1,93.6 338.1,95.0 Z" fill="#1428a6"/>
<path d="M285,101 C287.8,99.9 298.9,99.2 303.5,99.5 C308.1,99.8 310.1,101.4 312.8,102.5 C315.5,103.6 317.9,104.8 319.7,106 C321.5,107.2 322.9,108.3 323.5,110 C324.1,111.7 324.0,113.9 323.5,116 C323.0,118.1 321.9,120.6 320.5,122.5 C319.1,124.4 316.9,126.2 315,127.5 C313.1,128.8 310.5,130.9 309,130.5 C307.5,130.1 305.8,127.1 306,125 C306.2,122.9 310.0,120.2 310,118 C310.0,115.8 308.3,113.7 306,112 C303.7,110.3 299.2,109.0 296,108 C292.8,107.0 288.8,107.2 287,106 C285.2,104.8 282.2,102.1 285,101 Z" fill="#1428a6"/>
</g>
<g filter="url(#spkD)">
<path d="M254.6,102.7 C255.2,101.9 256.8,101.5 258.1,101.8 C259.5,102.1 261.2,103.0 262.7,104.4 C264.2,105.8 266.6,108.3 267.3,110.1 C268.0,111.9 266.2,113.4 266.7,115.3 C267.2,117.2 269.3,119.9 270.2,121.7 C271.1,123.5 271.8,125.0 271.9,126.3 C272.0,127.5 271.6,128.6 270.8,129.2 C270.0,129.8 268.7,129.9 267.3,129.8 C265.9,129.7 263.9,129.4 262.7,128.6 C261.5,127.8 261.1,126.4 260.4,125.1 C259.7,123.8 258.9,121.9 258.7,120.5 C258.5,119.1 259.6,118.0 259.2,116.5 C258.8,115.0 257.1,112.9 256.3,111.3 C255.5,109.7 254.7,108.1 254.4,106.7 C254.1,105.3 254.0,103.5 254.6,102.7 Z" fill="#34a534"/>
<path d="M263.3,66.7 C263.6,66.0 264.7,67.7 265.6,68.5 C266.5,69.3 268.2,70.5 268.5,71.3 C268.8,72.1 268.1,72.9 267.3,73.1 C266.5,73.3 264.5,73.6 263.8,72.5 C263.1,71.4 263.0,67.4 263.3,66.7 Z" fill="#d42030"/>
<path d="M316.2,128.5 C316.5,127.5 317.9,126.2 319,126.5 C320.1,126.8 321.8,128.7 322.5,130 C323.2,131.3 323.5,133.6 323.1,134.5 C322.7,135.4 321.0,135.8 320,135.5 C319.0,135.2 317.6,133.7 317,132.5 C316.4,131.3 315.9,129.5 316.2,128.5 Z" fill="#f08a20"/>
</g>
<g filter="url(#spk)">
<path d="M325,114 C325.8,112.7 328.0,112.3 329,113 C330.0,113.7 331.2,116.2 331,118 C330.8,119.8 329.2,123.5 328,124 C326.8,124.5 324.5,122.7 324,121 C323.5,119.3 324.2,115.3 325,114 Z" fill="#f08a20"/>
</g>
<g filter="url(#spkS)">
<path d="M462,86 C463.0,84.9 466.0,85.8 468,86.5 C470.0,87.2 472.7,88.6 474,90 C475.3,91.4 476.3,93.5 476,95 C475.7,96.5 473.7,98.7 472,99 C470.3,99.3 467.7,98.0 466,97 C464.3,96.0 462.7,94.8 462,93 C461.3,91.2 461.0,87.1 462,86 Z" fill="#1428a6"/>
<path d="M449.3,97.5 C449.8,95.4 455.1,96.8 458,97.5 C460.9,98.2 465.3,99.6 466.6,102 C467.9,104.4 466.8,109.0 466,112 C465.2,115.0 463.7,118.2 462,120 C460.3,121.8 457.2,124.7 456,123 C454.8,121.3 456.1,114.2 455,110 C453.9,105.8 448.8,99.6 449.3,97.5 Z" fill="#1428a6"/>
</g>
<g filter="url(#spk)">
<path d="M413.8,68.1 C414.4,66.0 414.9,62.1 416.1,60 C417.3,57.9 418.9,56.4 420.8,55.4 C422.7,54.4 425.8,53.7 427.7,53.7 C429.6,53.7 430.6,55.0 432.3,55.4 C434.0,55.8 436.2,56.0 438.1,56 C440.0,56.0 441.7,55.1 443.8,55.4 C445.9,55.7 448.7,56.8 450.8,57.7 C452.9,58.7 455.3,59.8 456.5,61.1 C457.7,62.5 458.1,64.1 458.2,65.8 C458.3,67.5 457.8,69.8 457.1,71.5 C456.4,73.2 455.1,74.8 454.2,76.1 C453.3,77.4 452.7,78.2 451.9,79.6 C451.1,80.9 451.0,82.7 449.6,84.2 C448.2,85.7 445.7,87.7 443.8,88.8 C441.9,89.9 440.0,90.5 438.1,91.1 C436.2,91.7 434.0,92.4 432.3,92.3 C430.6,92.2 429.1,91.6 427.7,90.6 C426.3,89.6 425.2,87.8 424.2,86.5 C423.2,85.2 422.8,83.9 421.9,83.1 C420.9,82.3 419.9,82.3 418.5,81.9 C417.1,81.5 415.0,81.6 413.8,80.8 C412.6,80.0 411.7,78.6 411.5,77.3 C411.3,76.0 412.3,74.2 412.7,72.7 C413.1,71.2 413.2,70.2 413.8,68.1 Z" fill="#1428a6"/>
<path d="M415,66 C415.3,63.0 416.7,60.7 418,59 C419.3,57.3 421.3,56.5 423,56 C424.7,55.5 427.5,55.0 428,56 C428.5,57.0 427.2,60.3 426,62 C424.8,63.7 422.0,64.0 421,66 C420.0,68.0 420.8,72.2 420,74 C419.2,75.8 416.8,78.3 416,77 C415.2,75.7 414.7,69.0 415,66 Z" fill="#1428a6"/>
<path d="M426.5,83.1 C426.5,81.6 428.1,80.6 430,79.6 C431.9,78.6 435.4,77.9 438.1,77.3 C440.8,76.7 444.0,75.9 446.1,76.1 C448.2,76.3 450.2,77.1 450.8,78.4 C451.4,79.8 450.8,82.6 449.6,84.2 C448.4,85.8 445.9,87.3 443.8,88.3 C441.7,89.3 439.2,89.9 436.9,90 C434.6,90.1 431.7,90.0 430,88.8 C428.3,87.6 426.5,84.6 426.5,83.1 Z" fill="#1428a6"/>
<path d="M441.5,89 C442.9,87.6 447.2,87.3 450,87 C452.8,86.7 455.6,86.6 458,87 C460.4,87.4 463.9,88.3 464.6,89.5 C465.3,90.7 464.1,92.8 462,94 C459.9,95.2 455.4,96.7 452,96.9 C448.6,97.2 443.2,96.8 441.5,95.5 C439.8,94.2 440.1,90.4 441.5,89 Z" fill="#1428a6"/>
<path d="M396.3,110.1 C396.5,108.8 397.7,108.4 399,109 C400.3,109.6 402.2,111.7 404,113.5 C405.8,115.3 408.5,117.9 409.6,120 C410.7,122.1 411.1,124.8 410.8,126 C410.5,127.2 409.5,127.9 408,127.4 C406.5,126.9 403.7,124.7 402,123 C400.3,121.3 398.9,119.2 398,117 C397.1,114.8 396.1,111.4 396.3,110.1 Z" fill="#5ab85a"/>
</g>
<g filter="url(#spkD)">
<path d="M434.6,58.8 C436.1,57.1 440.7,56.3 443.8,56.5 C446.9,56.7 451.0,58.6 453.1,60 C455.2,61.4 456.1,62.5 456.5,64.6 C456.9,66.7 456.3,70.8 455.4,72.7 C454.4,74.6 452.7,75.7 450.8,76.1 C448.9,76.5 445.9,75.6 443.8,75 C441.7,74.4 439.6,74.0 438.1,72.7 C436.6,71.4 435.2,69.2 434.6,66.9 C434.0,64.6 433.1,60.5 434.6,58.8 Z" fill="#1428a6"/>
<path d="M399.6,78.5 C400.7,77.7 402.9,77.2 404.2,77.3 C405.5,77.4 406.9,78.0 407.7,79 C408.5,80.0 408.8,81.5 408.8,83.1 C408.8,84.7 408.4,87.3 407.7,88.8 C407.0,90.3 405.9,91.1 404.8,92.3 C403.7,93.5 402.4,95.4 401.3,95.8 C400.2,96.2 399.4,95.4 398.5,94.6 C397.6,93.8 396.4,92.4 396.1,91.1 C395.8,89.8 396.4,88.0 396.7,86.5 C397.0,85.0 397.4,83.2 397.9,81.9 C398.4,80.6 398.6,79.3 399.6,78.5 Z" fill="#1428a6"/>
<path d="M455.4,81.5 C456.1,80.6 457.6,80.4 459,80.5 C460.4,80.6 462.6,81.1 463.5,82 C464.4,82.9 464.9,84.8 464.6,86 C464.4,87.2 463.3,88.5 462,89 C460.7,89.5 458.2,89.5 457,89 C455.8,88.5 455.3,87.2 455,86 C454.7,84.8 454.7,82.4 455.4,81.5 Z" fill="#1428a6"/>
<path d="M408.5,99.8 C409.2,98.3 411.2,97.1 413.1,96.3 C415.0,95.5 417.3,95.3 420,95.2 C422.7,95.1 426.1,95.7 429.2,95.7 C432.3,95.7 435.0,94.5 438.4,95.2 C441.8,95.9 446.5,97.7 449.3,99.8 C452.1,101.9 454.0,104.9 455.1,107.8 C456.2,110.7 456.4,114.4 456.2,117.1 C456.0,119.8 455.0,121.9 453.9,124 C452.8,126.1 451.0,128.2 449.3,129.8 C447.6,131.4 445.6,132.8 443.5,133.8 C441.4,134.9 439.0,136.1 436.6,136.1 C434.2,136.1 431.4,134.7 429.2,133.8 C427.0,132.9 425.1,132.0 423.4,130.9 C421.7,129.8 420.0,128.8 418.8,127.4 C417.6,126.1 416.9,124.5 416,122.8 C415.1,121.1 414.4,119.0 413.6,117.1 C412.8,115.2 412.1,113.2 411.3,111.3 C410.5,109.4 409.5,107.4 409,105.5 C408.5,103.6 407.8,101.3 408.5,99.8 Z" fill="#1428a6"/>
<path d="M464.3,100.9 C464.3,101.2 464.0,101.7 463.7,101.9 C463.4,102.1 462.8,102.1 462.5,101.9 C462.2,101.7 461.9,101.2 461.9,100.9 C461.9,100.6 462.2,100.1 462.5,99.9 C462.8,99.7 463.4,99.7 463.7,99.9 C464.0,100.1 464.3,100.6 464.3,100.9 Z" fill="#1428a6"/>
<path d="M389.7,109.6 C389.7,109.9 389.4,110.4 389.2,110.6 C388.9,110.8 388.4,110.8 388.2,110.6 C387.9,110.4 387.7,109.9 387.7,109.6 C387.7,109.3 387.9,108.8 388.2,108.6 C388.4,108.4 388.9,108.4 389.2,108.6 C389.4,108.8 389.7,109.3 389.7,109.6 Z" fill="#1428a6"/>
</g>
<g filter="url(#spkD)">
<path d="M451.6,136.7 C451.4,136.1 452.5,134.8 453.9,133.2 C455.2,131.6 457.8,129.3 459.7,127.4 C461.6,125.5 463.9,123.4 465.4,121.7 C466.9,120.0 467.8,118.2 468.9,117.1 C470.0,116.0 471.1,115.1 471.8,115.3 C472.5,115.5 473.2,117.0 472.9,118.2 C472.6,119.5 471.4,121.1 470.1,122.8 C468.9,124.5 467.1,126.8 465.4,128.6 C463.7,130.4 461.4,132.5 459.7,133.8 C458.0,135.2 456.5,136.2 455.1,136.7 C453.8,137.2 451.8,137.3 451.6,136.7 Z" fill="#f08a20"/>
</g>
<path d="M423,66 C424.1,63.9 427.0,63.5 429,63.5 C431.0,63.5 433.7,64.4 435,66 C436.3,67.6 437.2,70.7 437,73 C436.8,75.3 435.7,78.5 434,80 C432.3,81.5 428.9,82.7 427,82 C425.1,81.3 423.2,78.7 422.5,76 C421.8,73.3 421.9,68.1 423,66 Z" fill="#ffffff" fill-opacity="0.55"/>
<line x1="325.8" y1="71.2" x2="329.8" y2="77.6" stroke="#2a3aa8" stroke-width="0.9"/>
<line x1="465" y1="71.3" x2="469.6" y2="77.2" stroke="#2a3aa8" stroke-width="0.9"/>
<text x="78.9" y="365.2" font-size="7.6" text-anchor="middle" fill="#231f20" stroke="#231f20" stroke-width="0.18">Healthy</text>
<text x="178.9" y="365.2" font-size="7.6" text-anchor="middle" fill="#231f20" stroke="#231f20" stroke-width="0.18">TBD</text>
<line x1="20.5" y1="370.8" x2="20.5" y2="462.3" stroke="#231f20" stroke-width="1.1"/>
<line x1="20.5" y1="462.3" x2="217.8" y2="462.3" stroke="#231f20" stroke-width="1.1"/>
<line x1="20.5" y1="482.5" x2="20.5" y2="574.4" stroke="#231f20" stroke-width="1.1"/>
<line x1="20.5" y1="574.4" x2="223.5" y2="574.4" stroke="#231f20" stroke-width="1.1"/>
<line x1="20.5" y1="595.5" x2="20.5" y2="686.3" stroke="#231f20" stroke-width="1.1"/>
<line x1="20.5" y1="686.3" x2="223" y2="686.3" stroke="#231f20" stroke-width="1.1"/>
<text transform="translate(15,424.6) rotate(-90)" font-size="9.5" font-weight="bold" textLength="15.9" lengthAdjust="spacingAndGlyphs" fill="#231f20">CD38</text>
<text x="107.0" y="473.5" font-size="9" font-weight="bold" textLength="24" lengthAdjust="spacingAndGlyphs" fill="#231f20">HLA-DR</text>
<text transform="translate(15,538.1) rotate(-90)" font-size="9.5" font-weight="bold" textLength="19.1" lengthAdjust="spacingAndGlyphs" fill="#231f20">SSC-A</text>
<text x="109.9" y="585.8" font-size="9" font-weight="bold" textLength="24" lengthAdjust="spacingAndGlyphs" fill="#231f20">HLA-DR</text>
<text transform="translate(15,650) rotate(-90)" font-size="9.5" font-weight="bold" textLength="19.1" lengthAdjust="spacingAndGlyphs" fill="#231f20">SSC-A</text>
<text x="113.8" y="697.7" font-size="9" font-weight="bold" textLength="16" lengthAdjust="spacingAndGlyphs" fill="#231f20">CD38</text>
<g transform="translate(40,370) scale(0.15385)">
<path d="M150,183 C159.3,178.7 179.2,176.2 190,174 C200.8,171.8 206.7,171.2 215,170 C223.3,168.8 237.2,164.5 240,167 C242.8,169.5 235.7,179.5 232,185 C228.3,190.5 220.8,180.8 218,200 C215.2,219.2 216.3,275.0 215,300 C213.7,325.0 213.3,333.3 210,350 C206.7,366.7 201.7,385.0 195,400 C188.3,415.0 179.2,430.8 170,440 C160.8,449.2 149.2,455.0 140,455 C130.8,455.0 120.0,449.2 115,440 C110.0,430.8 110.0,418.3 110,400 C110.0,381.7 113.0,352.5 115,330 C117.0,307.5 120.0,281.7 122,265 C124.0,248.3 125.0,240.8 127,230 C129.0,219.2 130.2,207.8 134,200 C137.8,192.2 140.7,187.3 150,183 Z" fill="#2a55b8"/>
<path d="M175.0,368.0 C175.0,380.0 173.5,393.6 171.0,404.0 C168.5,414.4 164.3,424.4 160.0,430.4 C155.7,436.4 150.0,440.0 145.0,440.0 C140.0,440.0 134.3,436.4 130.0,430.4 C125.7,424.4 121.5,414.4 119.0,404.0 C116.5,393.6 115.0,380.0 115.0,368.0 C115.0,356.0 116.5,342.4 119.0,332.0 C121.5,321.6 125.7,311.6 130.0,305.6 C134.3,299.6 140.0,296.0 145.0,296.0 C150.0,296.0 155.7,299.6 160.0,305.6 C164.3,311.6 168.5,321.6 171.0,332.0 C173.5,342.4 175.0,356.0 175.0,368.0 Z" fill="#3d8fd6"/>
<path d="M167.0,365.0 C167.0,373.7 165.9,383.5 164.1,391.0 C162.3,398.5 159.2,405.7 156.0,410.0 C152.8,414.3 148.7,417.0 145.0,417.0 C141.3,417.0 137.2,414.3 134.0,410.0 C130.8,405.7 127.7,398.5 125.9,391.0 C124.1,383.5 123.0,373.7 123.0,365.0 C123.0,356.3 124.1,346.5 125.9,339.0 C127.7,331.5 130.8,324.3 134.0,320.0 C137.2,315.7 141.3,313.0 145.0,313.0 C148.7,313.0 152.8,315.7 156.0,320.0 C159.2,324.3 162.3,331.5 164.1,339.0 C165.9,346.5 167.0,356.3 167.0,365.0 Z" fill="#45c4e0"/>
<path d="M160.0,363.0 C160.0,369.3 159.2,376.5 158.0,382.0 C156.8,387.5 154.7,392.7 152.5,395.9 C150.3,399.1 147.5,401.0 145.0,401.0 C142.5,401.0 139.7,399.1 137.5,395.9 C135.3,392.7 133.2,387.5 132.0,382.0 C130.8,376.5 130.0,369.3 130.0,363.0 C130.0,356.7 130.8,349.5 132.0,344.0 C133.2,338.5 135.3,333.3 137.5,330.1 C139.7,326.9 142.5,325.0 145.0,325.0 C147.5,325.0 150.3,326.9 152.5,330.1 C154.7,333.3 156.8,338.5 158.0,344.0 C159.2,349.5 160.0,356.7 160.0,363.0 Z" fill="#72c04a"/>
<path d="M154.0,362.0 C154.0,366.0 153.6,370.5 152.8,374.0 C152.1,377.5 150.8,380.8 149.5,382.8 C148.2,384.8 146.5,386.0 145.0,386.0 C143.5,386.0 141.8,384.8 140.5,382.8 C139.2,380.8 137.9,377.5 137.2,374.0 C136.4,370.5 136.0,366.0 136.0,362.0 C136.0,358.0 136.4,353.5 137.2,350.0 C137.9,346.5 139.2,343.2 140.5,341.2 C141.8,339.2 143.5,338.0 145.0,338.0 C146.5,338.0 148.2,339.2 149.5,341.2 C150.8,343.2 152.1,346.5 152.8,350.0 C153.6,353.5 154.0,358.0 154.0,362.0 Z" fill="#ece034"/>
<path d="M151.0,361.0 C151.0,363.5 150.7,366.3 150.2,368.5 C149.7,370.7 148.9,372.8 148.0,374.0 C147.1,375.2 146.0,376.0 145.0,376.0 C144.0,376.0 142.9,375.2 142.0,374.0 C141.1,372.8 140.3,370.7 139.8,368.5 C139.3,366.3 139.0,363.5 139.0,361.0 C139.0,358.5 139.3,355.7 139.8,353.5 C140.3,351.3 141.1,349.2 142.0,348.0 C142.9,346.8 144.0,346.0 145.0,346.0 C146.0,346.0 147.1,346.8 148.0,348.0 C148.9,349.2 149.7,351.3 150.2,353.5 C150.7,355.7 151.0,358.5 151.0,361.0 Z" fill="#f39020"/>
<path d="M148.0,360.0 C148.0,361.3 147.8,362.9 147.6,364.0 C147.3,365.1 146.9,366.2 146.5,366.9 C146.1,367.6 145.5,368.0 145.0,368.0 C144.5,368.0 143.9,367.6 143.5,366.9 C143.1,366.2 142.7,365.1 142.4,364.0 C142.2,362.9 142.0,361.3 142.0,360.0 C142.0,358.7 142.2,357.1 142.4,356.0 C142.7,354.9 143.1,353.8 143.5,353.1 C143.9,352.4 144.5,352.0 145.0,352.0 C145.5,352.0 146.1,352.4 146.5,353.1 C146.9,353.8 147.3,354.9 147.6,356.0 C147.8,357.1 148.0,358.7 148.0,360.0 Z" fill="#e02a20"/>
<path d="M275,158 C268.0,155.7 283.5,151.2 288,148 C292.5,144.8 297.3,142.5 302,139 C306.7,135.5 310.5,130.2 316,127 C321.5,123.8 328.5,120.5 335,120 C341.5,119.5 348.8,121.5 355,124 C361.2,126.5 367.5,130.7 372,135 C376.5,139.3 381.0,145.8 382,150 C383.0,154.2 386.7,158.0 378,160 C369.3,162.0 347.2,162.3 330,162 C312.8,161.7 282.0,160.3 275,158 Z" fill="#2a55b8"/>
</g>
<g transform="translate(140,370) scale(0.15385)">
<path d="M135,160 C142.5,150.0 156.7,142.5 170,140 C183.3,137.5 204.2,140.8 215,145 C225.8,149.2 233.3,155.8 235,165 C236.7,174.2 225.8,187.5 225,200 C224.2,212.5 231.7,228.3 230,240 C228.3,251.7 218.3,258.3 215,270 C211.7,281.7 214.2,296.7 210,310 C205.8,323.3 196.7,336.7 190,350 C183.3,363.3 178.3,378.3 170,390 C161.7,401.7 148.3,416.7 140,420 C131.7,423.3 123.3,420.0 120,410 C116.7,400.0 119.2,378.3 120,360 C120.8,341.7 123.3,318.3 125,300 C126.7,281.7 130.0,266.7 130,250 C130.0,233.3 124.2,215.0 125,200 C125.8,185.0 127.5,170.0 135,160 Z" fill="#2a55b8"/>
<path d="M140,175 C146.7,166.7 163.3,161.7 175,160 C186.7,158.3 202.5,158.3 210,165 C217.5,171.7 220.0,184.2 220,200 C220.0,215.8 214.2,241.7 210,260 C205.8,278.3 200.8,293.3 195,310 C189.2,326.7 182.5,345.0 175,360 C167.5,375.0 157.5,394.2 150,400 C142.5,405.8 133.3,406.7 130,395 C126.7,383.3 128.3,350.8 130,330 C131.7,309.2 139.2,290.0 140,270 C140.8,250.0 135.0,225.8 135,210 C135.0,194.2 133.3,183.3 140,175 Z" fill="#3d8fd6"/>
<path d="M150,185 C156.7,177.5 180.0,173.3 190,175 C200.0,176.7 207.5,184.2 210,195 C212.5,205.8 207.5,224.2 205,240 C202.5,255.8 199.2,275.0 195,290 C190.8,305.0 185.0,315.0 180,330 C175.0,345.0 171.7,370.0 165,380 C158.3,390.0 145.0,398.3 140,390 C135.0,381.7 134.2,350.0 135,330 C135.8,310.0 142.5,288.3 145,270 C147.5,251.7 149.2,234.2 150,220 C150.8,205.8 143.3,192.5 150,185 Z" fill="#72c04a"/>
<path d="M203.0,212.0 C203.0,216.7 202.0,222.0 200.3,226.0 C198.6,230.0 195.9,233.9 193.0,236.2 C190.1,238.5 186.3,240.0 183.0,240.0 C179.7,240.0 175.9,238.5 173.0,236.2 C170.1,233.9 167.4,230.0 165.7,226.0 C164.0,222.0 163.0,216.7 163.0,212.0 C163.0,207.3 164.0,202.0 165.7,198.0 C167.4,194.0 170.1,190.1 173.0,187.8 C175.9,185.5 179.7,184.0 183.0,184.0 C186.3,184.0 190.1,185.5 193.0,187.8 C195.9,190.1 198.6,194.0 200.3,198.0 C202.0,202.0 203.0,207.3 203.0,212.0 Z" fill="#ece034"/>
<path d="M192.0,212.0 C192.0,214.3 191.6,217.0 190.8,219.0 C190.1,221.0 188.8,222.9 187.5,224.1 C186.2,225.3 184.5,226.0 183.0,226.0 C181.5,226.0 179.8,225.3 178.5,224.1 C177.2,222.9 175.9,221.0 175.2,219.0 C174.4,217.0 174.0,214.3 174.0,212.0 C174.0,209.7 174.4,207.0 175.2,205.0 C175.9,203.0 177.2,201.1 178.5,199.9 C179.8,198.7 181.5,198.0 183.0,198.0 C184.5,198.0 186.2,198.7 187.5,199.9 C188.8,201.1 190.1,203.0 190.8,205.0 C191.6,207.0 192.0,209.7 192.0,212.0 Z" fill="#e02a20"/>
<path d="M157.0,345.0 C157.0,349.2 156.4,353.9 155.4,357.5 C154.4,361.1 152.7,364.6 151.0,366.7 C149.3,368.8 147.0,370.0 145.0,370.0 C143.0,370.0 140.7,368.8 139.0,366.7 C137.3,364.6 135.6,361.1 134.6,357.5 C133.6,353.9 133.0,349.2 133.0,345.0 C133.0,340.8 133.6,336.1 134.6,332.5 C135.6,328.9 137.3,325.4 139.0,323.3 C140.7,321.2 143.0,320.0 145.0,320.0 C147.0,320.0 149.3,321.2 151.0,323.3 C152.7,325.4 154.4,328.9 155.4,332.5 C156.4,336.1 157.0,340.8 157.0,345.0 Z" fill="#ece034"/>
<path d="M150.0,340.0 C150.0,341.3 149.7,342.9 149.3,344.0 C148.9,345.1 148.2,346.2 147.5,346.9 C146.8,347.6 145.8,348.0 145.0,348.0 C144.2,348.0 143.2,347.6 142.5,346.9 C141.8,346.2 141.1,345.1 140.7,344.0 C140.3,342.9 140.0,341.3 140.0,340.0 C140.0,338.7 140.3,337.1 140.7,336.0 C141.1,334.9 141.8,333.8 142.5,333.1 C143.2,332.4 144.2,332.0 145.0,332.0 C145.8,332.0 146.8,332.4 147.5,333.1 C148.2,333.8 148.9,334.9 149.3,336.0 C149.7,337.1 150.0,338.7 150.0,340.0 Z" fill="#f39020"/>
<path d="M228,140 C231.2,134.7 239.3,128.8 245,128 C250.7,127.2 257.0,131.3 262,135 C267.0,138.7 273.3,144.2 275,150 C276.7,155.8 270.8,163.3 272,170 C273.2,176.7 280.7,182.5 282,190 C283.3,197.5 282.0,206.7 280,215 C278.0,223.3 274.2,232.2 270,240 C265.8,247.8 260.0,259.0 255,262 C250.0,265.0 243.8,262.5 240,258 C236.2,253.5 232.3,243.0 232,235 C231.7,227.0 238.0,218.3 238,210 C238.0,201.7 234.0,193.3 232,185 C230.0,176.7 226.7,167.5 226,160 C225.3,152.5 224.8,145.3 228,140 Z" fill="#2a55b8"/>
<path d="M236,148 C238.3,142.2 247.2,139.3 252,140 C256.8,140.7 263.3,146.2 265,152 C266.7,157.8 261.5,167.0 262,175 C262.5,183.0 268.0,191.7 268,200 C268.0,208.3 265.0,217.5 262,225 C259.0,232.5 253.3,243.3 250,245 C246.7,246.7 242.8,241.7 242,235 C241.2,228.3 245.7,215.0 245,205 C244.3,195.0 239.5,184.5 238,175 C236.5,165.5 233.7,153.8 236,148 Z" fill="#45c4e0"/>
<path d="M248,133 C252.2,127.8 266.3,128.3 280,127 C293.7,125.7 315.8,124.2 330,125 C344.2,125.8 354.2,131.5 365,132 C375.8,132.5 385.0,127.5 395,128 C405.0,128.5 417.2,131.3 425,135 C432.8,138.7 439.5,143.3 442,150 C444.5,156.7 442.8,166.7 440,175 C437.2,183.3 430.0,191.7 425,200 C420.0,208.3 416.7,216.7 410,225 C403.3,233.3 393.3,242.8 385,250 C376.7,257.2 367.5,266.0 360,268 C352.5,270.0 345.0,267.5 340,262 C335.0,256.5 333.7,244.5 330,235 C326.3,225.5 322.2,212.8 318,205 C313.8,197.2 309.7,192.8 305,188 C300.3,183.2 295.5,179.7 290,176 C284.5,172.3 277.8,169.0 272,166 C266.2,163.0 259.0,163.5 255,158 C251.0,152.5 243.8,138.2 248,133 Z" fill="#2a55b8"/>
<path d="M262,139 C265.0,135.3 277.8,134.7 290,134 C302.2,133.3 322.5,134.0 335,135 C347.5,136.0 355.0,139.7 365,140 C375.0,140.3 385.8,136.2 395,137 C404.2,137.8 413.8,141.2 420,145 C426.2,148.8 430.7,154.2 432,160 C433.3,165.8 431.7,172.5 428,180 C424.3,187.5 416.3,196.7 410,205 C403.7,213.3 397.5,222.2 390,230 C382.5,237.8 372.5,248.7 365,252 C357.5,255.3 349.5,254.5 345,250 C340.5,245.5 341.3,234.2 338,225 C334.7,215.8 329.3,202.8 325,195 C320.7,187.2 317.0,182.8 312,178 C307.0,173.2 301.7,169.7 295,166 C288.3,162.3 277.5,160.5 272,156 C266.5,151.5 259.0,142.7 262,139 Z" fill="#3d8fd6"/>
<path d="M285,145 C286.7,142.0 300.0,142.0 310,142 C320.0,142.0 335.0,143.7 345,145 C355.0,146.3 360.8,149.2 370,150 C379.2,150.8 391.7,148.3 400,150 C408.3,151.7 417.0,155.0 420,160 C423.0,165.0 421.3,173.3 418,180 C414.7,186.7 406.3,193.3 400,200 C393.7,206.7 386.7,214.2 380,220 C373.3,225.8 365.8,233.7 360,235 C354.2,236.3 349.2,233.8 345,228 C340.8,222.2 338.8,208.3 335,200 C331.2,191.7 327.8,184.7 322,178 C316.2,171.3 306.2,165.5 300,160 C293.8,154.5 283.3,148.0 285,145 Z" fill="#45c4e0"/>
<path d="M345,190 C348.8,186.7 360.8,186.0 370,185 C379.2,184.0 392.5,182.8 400,184 C407.5,185.2 413.7,188.0 415,192 C416.3,196.0 413.0,203.8 408,208 C403.0,212.2 393.0,215.3 385,217 C377.0,218.7 366.3,220.0 360,218 C353.7,216.0 349.5,209.7 347,205 C344.5,200.3 341.2,193.3 345,190 Z" fill="#72c04a"/>
<path d="M378.0,182.0 C378.0,183.2 377.4,184.5 376.3,185.5 C375.2,186.5 373.4,187.5 371.5,188.1 C369.6,188.7 367.2,189.0 365.0,189.0 C362.8,189.0 360.4,188.7 358.5,188.1 C356.6,187.5 354.8,186.5 353.7,185.5 C352.6,184.5 352.0,183.2 352.0,182.0 C352.0,180.8 352.6,179.5 353.7,178.5 C354.8,177.5 356.6,176.5 358.5,175.9 C360.4,175.3 362.8,175.0 365.0,175.0 C367.2,175.0 369.6,175.3 371.5,175.9 C373.4,176.5 375.2,177.5 376.3,178.5 C377.4,179.5 378.0,180.8 378.0,182.0 Z" fill="#ffffff"/>
<path d="M393,96 C392.8,91.5 400.5,88.5 405,89 C409.5,89.5 416.0,94.8 420,99 C424.0,103.2 428.8,110.0 429,114 C429.2,118.0 424.8,122.7 421,123 C417.2,123.3 410.7,120.5 406,116 C401.3,111.5 393.2,100.5 393,96 Z" fill="#2a55b8"/>
<path d="M417.0,106.0 C417.0,106.8 416.7,107.8 416.1,108.5 C415.5,109.2 414.5,109.9 413.5,110.3 C412.5,110.7 411.2,111.0 410.0,111.0 C408.8,111.0 407.5,110.7 406.5,110.3 C405.5,109.9 404.5,109.2 403.9,108.5 C403.3,107.8 403.0,106.8 403.0,106.0 C403.0,105.2 403.3,104.2 403.9,103.5 C404.5,102.8 405.5,102.1 406.5,101.7 C407.5,101.3 408.8,101.0 410.0,101.0 C411.2,101.0 412.5,101.3 413.5,101.7 C414.5,102.1 415.5,102.8 416.1,103.5 C416.7,104.2 417.0,105.2 417.0,106.0 Z" fill="#3d8fd6"/>
</g>
<g transform="translate(44,480) scale(0.15385)">
<path d="M110,440 C110.0,426.7 115.0,396.7 120,380 C125.0,363.3 134.2,349.7 140,340 C145.8,330.3 149.2,323.7 155,322 C160.8,320.3 167.5,323.7 175,330 C182.5,336.3 193.3,350.0 200,360 C206.7,370.0 205.8,383.3 215,390 C224.2,396.7 247.2,395.8 255,400 C262.8,404.2 263.7,408.3 262,415 C260.3,421.7 254.5,433.3 245,440 C235.5,446.7 219.2,451.3 205,455 C190.8,458.7 174.2,461.2 160,462 C145.8,462.8 128.3,463.7 120,460 C111.7,456.3 110.0,453.3 110,440 Z" fill="#2a55b8"/>
<path d="M120,430 C120.0,419.2 125.0,397.5 130,385 C135.0,372.5 143.3,359.2 150,355 C156.7,350.8 163.3,354.2 170,360 C176.7,365.8 185.8,378.3 190,390 C194.2,401.7 198.3,420.0 195,430 C191.7,440.0 180.8,446.7 170,450 C159.2,453.3 138.3,453.3 130,450 C121.7,446.7 120.0,440.8 120,430 Z" fill="#3d8fd6"/>
<path d="M163.0,420.0 C163.0,424.7 162.1,430.0 160.6,434.0 C159.1,438.0 156.6,441.9 154.0,444.2 C151.4,446.5 148.0,448.0 145.0,448.0 C142.0,448.0 138.6,446.5 136.0,444.2 C133.4,441.9 130.9,438.0 129.4,434.0 C127.9,430.0 127.0,424.7 127.0,420.0 C127.0,415.3 127.9,410.0 129.4,406.0 C130.9,402.0 133.4,398.1 136.0,395.8 C138.6,393.5 142.0,392.0 145.0,392.0 C148.0,392.0 151.4,393.5 154.0,395.8 C156.6,398.1 159.1,402.0 160.6,406.0 C162.1,410.0 163.0,415.3 163.0,420.0 Z" fill="#45c4e0"/>
<path d="M155.0,422.0 C155.0,424.7 154.5,427.7 153.7,430.0 C152.9,432.3 151.4,434.6 150.0,435.9 C148.6,437.2 146.7,438.0 145.0,438.0 C143.3,438.0 141.4,437.2 140.0,435.9 C138.6,434.6 137.1,432.3 136.3,430.0 C135.5,427.7 135.0,424.7 135.0,422.0 C135.0,419.3 135.5,416.3 136.3,414.0 C137.1,411.7 138.6,409.4 140.0,408.1 C141.4,406.8 143.3,406.0 145.0,406.0 C146.7,406.0 148.6,406.8 150.0,408.1 C151.4,409.4 152.9,411.7 153.7,414.0 C154.5,416.3 155.0,419.3 155.0,422.0 Z" fill="#72c04a"/>
<path d="M150.0,425.0 C150.0,426.3 149.7,427.9 149.3,429.0 C148.9,430.1 148.2,431.2 147.5,431.9 C146.8,432.6 145.8,433.0 145.0,433.0 C144.2,433.0 143.2,432.6 142.5,431.9 C141.8,431.2 141.1,430.1 140.7,429.0 C140.3,427.9 140.0,426.3 140.0,425.0 C140.0,423.7 140.3,422.1 140.7,421.0 C141.1,419.9 141.8,418.8 142.5,418.1 C143.2,417.4 144.2,417.0 145.0,417.0 C145.8,417.0 146.8,417.4 147.5,418.1 C148.2,418.8 148.9,419.9 149.3,421.0 C149.7,422.1 150.0,423.7 150.0,425.0 Z" fill="#ece034"/>
<path d="M315,240 C317.8,236.0 330.0,235.5 335,238 C340.0,240.5 344.2,248.0 345,255 C345.8,262.0 337.8,274.2 340,280 C342.2,285.8 354.7,286.3 358,290 C361.3,293.7 362.2,299.5 360,302 C357.8,304.5 350.0,307.8 345,305 C340.0,302.2 334.5,292.2 330,285 C325.5,277.8 320.5,269.5 318,262 C315.5,254.5 312.2,244.0 315,240 Z" fill="#2a55b8"/>
</g>
<g transform="translate(146,480) scale(0.15385)">
<path d="M110,385 C113.7,373.3 120.0,372.2 130,370 C140.0,367.8 153.3,370.3 170,372 C186.7,373.7 213.3,377.8 230,380 C246.7,382.2 260.0,380.0 270,385 C280.0,390.0 288.3,400.8 290,410 C291.7,419.2 280.8,430.8 280,440 C279.2,449.2 291.7,460.0 285,465 C278.3,470.0 257.5,468.3 240,470 C222.5,471.7 200.0,474.7 180,475 C160.0,475.3 132.0,477.8 120,472 C108.0,466.2 109.7,454.5 108,440 C106.3,425.5 106.3,396.7 110,385 Z" fill="#2a55b8"/>
<path d="M118,392 C124.7,379.5 141.3,385.3 160,385 C178.7,384.7 212.5,387.5 230,390 C247.5,392.5 258.3,391.7 265,400 C271.7,408.3 274.2,430.0 270,440 C265.8,450.0 255.0,456.3 240,460 C225.0,463.7 200.0,462.0 180,462 C160.0,462.0 130.3,471.7 120,460 C109.7,448.3 111.3,404.5 118,392 Z" fill="#3d8fd6"/>
<path d="M122,400 C129.2,390.8 149.5,394.2 165,395 C180.5,395.8 205.0,397.5 215,405 C225.0,412.5 227.5,431.7 225,440 C222.5,448.3 212.5,452.0 200,455 C187.5,458.0 163.0,458.8 150,458 C137.0,457.2 126.7,459.7 122,450 C117.3,440.3 114.8,409.2 122,400 Z" fill="#72c04a"/>
<path d="M200.0,438.0 C200.0,440.3 198.2,443.0 195.3,445.0 C192.4,447.0 187.6,448.9 182.5,450.1 C177.4,451.3 170.8,452.0 165.0,452.0 C159.2,452.0 152.6,451.3 147.5,450.1 C142.4,448.9 137.6,447.0 134.7,445.0 C131.8,443.0 130.0,440.3 130.0,438.0 C130.0,435.7 131.8,433.0 134.7,431.0 C137.6,429.0 142.4,427.1 147.5,425.9 C152.6,424.7 159.2,424.0 165.0,424.0 C170.8,424.0 177.4,424.7 182.5,425.9 C187.6,427.1 192.4,429.0 195.3,431.0 C198.2,433.0 200.0,435.7 200.0,438.0 Z" fill="#ece034"/>
<path d="M190.0,438.0 C190.0,439.5 188.8,441.2 186.7,442.5 C184.6,443.8 181.1,445.1 177.5,445.8 C173.9,446.6 169.2,447.0 165.0,447.0 C160.8,447.0 156.1,446.6 152.5,445.8 C148.9,445.1 145.4,443.8 143.3,442.5 C141.2,441.2 140.0,439.5 140.0,438.0 C140.0,436.5 141.2,434.8 143.3,433.5 C145.4,432.2 148.9,430.9 152.5,430.2 C156.1,429.4 160.8,429.0 165.0,429.0 C169.2,429.0 173.9,429.4 177.5,430.2 C181.1,430.9 184.6,432.2 186.7,433.5 C188.8,434.8 190.0,436.5 190.0,438.0 Z" fill="#f39020"/>
<path d="M154.0,438.0 C154.0,439.0 153.7,440.1 153.1,441.0 C152.5,441.9 151.5,442.7 150.5,443.2 C149.5,443.7 148.2,444.0 147.0,444.0 C145.8,444.0 144.5,443.7 143.5,443.2 C142.5,442.7 141.5,441.9 140.9,441.0 C140.3,440.1 140.0,439.0 140.0,438.0 C140.0,437.0 140.3,435.9 140.9,435.0 C141.5,434.1 142.5,433.3 143.5,432.8 C144.5,432.3 145.8,432.0 147.0,432.0 C148.2,432.0 149.5,432.3 150.5,432.8 C151.5,433.3 152.5,434.1 153.1,435.0 C153.7,435.9 154.0,437.0 154.0,438.0 Z" fill="#e02a20"/>
<path d="M187.0,438.0 C187.0,438.8 186.7,439.8 186.2,440.5 C185.7,441.2 184.9,441.9 184.0,442.3 C183.1,442.7 182.0,443.0 181.0,443.0 C180.0,443.0 178.9,442.7 178.0,442.3 C177.1,441.9 176.3,441.2 175.8,440.5 C175.3,439.8 175.0,438.8 175.0,438.0 C175.0,437.2 175.3,436.2 175.8,435.5 C176.3,434.8 177.1,434.1 178.0,433.7 C178.9,433.3 180.0,433.0 181.0,433.0 C182.0,433.0 183.1,433.3 184.0,433.7 C184.9,434.1 185.7,434.8 186.2,435.5 C186.7,436.2 187.0,437.2 187.0,438.0 Z" fill="#e02a20"/>
<path d="M310,410 C315.0,403.3 329.2,401.7 335,395 C340.8,388.3 344.2,378.3 345,370 C345.8,361.7 338.3,350.0 340,345 C341.7,340.0 350.0,338.3 355,340 C360.0,341.7 367.8,346.7 370,355 C372.2,363.3 364.7,382.5 368,390 C371.3,397.5 382.2,399.2 390,400 C397.8,400.8 409.2,391.7 415,395 C420.8,398.3 420.8,408.3 425,420 C429.2,431.7 443.3,455.8 440,465 C436.7,474.2 420.0,473.8 405,475 C390.0,476.2 365.0,474.5 350,472 C335.0,469.5 322.5,466.2 315,460 C307.5,453.8 305.8,443.3 305,435 C304.2,426.7 305.0,416.7 310,410 Z" fill="#2a55b8"/>
<path d="M320,420 C325.0,413.3 342.5,408.3 350,405 C357.5,401.7 356.7,399.5 365,400 C373.3,400.5 391.2,403.8 400,408 C408.8,412.2 413.0,416.3 418,425 C423.0,433.7 433.8,453.3 430,460 C426.2,466.7 410.0,464.7 395,465 C380.0,465.3 352.5,465.3 340,462 C327.5,458.7 323.3,452.0 320,445 C316.7,438.0 315.0,426.7 320,420 Z" fill="#3d8fd6"/>
<path d="M340,425 C346.7,420.0 368.3,418.3 380,420 C391.7,421.7 404.2,429.2 410,435 C415.8,440.8 421.7,451.2 415,455 C408.3,458.8 382.5,458.8 370,458 C357.5,457.2 345.0,455.5 340,450 C335.0,444.5 333.3,430.0 340,425 Z" fill="#45c4e0"/>
<path d="M385.0,440.0 C385.0,441.3 384.2,442.9 383.0,444.0 C381.8,445.1 379.7,446.2 377.5,446.9 C375.3,447.6 372.5,448.0 370.0,448.0 C367.5,448.0 364.7,447.6 362.5,446.9 C360.3,446.2 358.2,445.1 357.0,444.0 C355.8,442.9 355.0,441.3 355.0,440.0 C355.0,438.7 355.8,437.1 357.0,436.0 C358.2,434.9 360.3,433.8 362.5,433.1 C364.7,432.4 367.5,432.0 370.0,432.0 C372.5,432.0 375.3,432.4 377.5,433.1 C379.7,433.8 381.8,434.9 383.0,436.0 C384.2,437.1 385.0,438.7 385.0,440.0 Z" fill="#72c04a"/>
<path d="M408.0,335.0 C408.0,336.3 407.6,337.9 406.9,339.0 C406.2,340.1 405.1,341.2 404.0,341.9 C402.9,342.6 401.3,343.0 400.0,343.0 C398.7,343.0 397.1,342.6 396.0,341.9 C394.9,341.2 393.8,340.1 393.1,339.0 C392.4,337.9 392.0,336.3 392.0,335.0 C392.0,333.7 392.4,332.1 393.1,331.0 C393.8,329.9 394.9,328.8 396.0,328.1 C397.1,327.4 398.7,327.0 400.0,327.0 C401.3,327.0 402.9,327.4 404.0,328.1 C405.1,328.8 406.2,329.9 406.9,331.0 C407.6,332.1 408.0,333.7 408.0,335.0 Z" fill="#2a55b8"/>
</g>
<g transform="translate(44,593) scale(0.15385)">
<path d="M55,420 C55.8,407.5 60.8,387.5 70,375 C79.2,362.5 95.0,352.5 110,345 C125.0,337.5 143.3,331.7 160,330 C176.7,328.3 197.5,330.8 210,335 C222.5,339.2 225.0,350.0 235,355 C245.0,360.0 255.8,361.7 270,365 C284.2,368.3 307.5,369.2 320,375 C332.5,380.8 339.2,394.2 345,400 C350.8,405.8 355.8,406.7 355,410 C354.2,413.3 349.2,415.0 340,420 C330.8,425.0 316.7,435.0 300,440 C283.3,445.0 260.0,445.8 240,450 C220.0,454.2 201.7,462.5 180,465 C158.3,467.5 129.2,467.5 110,465 C90.8,462.5 74.2,457.5 65,450 C55.8,442.5 54.2,432.5 55,420 Z" fill="#2a55b8"/>
<path d="M70,420 C71.7,410.0 80.0,394.2 90,385 C100.0,375.8 115.0,368.8 130,365 C145.0,361.2 165.8,359.5 180,362 C194.2,364.5 207.5,370.3 215,380 C222.5,389.7 229.2,408.3 225,420 C220.8,431.7 207.5,444.2 190,450 C172.5,455.8 138.3,455.8 120,455 C101.7,454.2 88.3,450.8 80,445 C71.7,439.2 68.3,430.0 70,420 Z" fill="#3d8fd6"/>
<path d="M190.0,422.0 C190.0,426.7 187.5,432.0 183.3,436.0 C179.1,440.0 172.2,443.9 165.0,446.2 C157.8,448.5 148.3,450.0 140.0,450.0 C131.7,450.0 122.2,448.5 115.0,446.2 C107.8,443.9 100.9,440.0 96.7,436.0 C92.5,432.0 90.0,426.7 90.0,422.0 C90.0,417.3 92.5,412.0 96.7,408.0 C100.9,404.0 107.8,400.1 115.0,397.8 C122.2,395.5 131.7,394.0 140.0,394.0 C148.3,394.0 157.8,395.5 165.0,397.8 C172.2,400.1 179.1,404.0 183.3,408.0 C187.5,412.0 190.0,417.3 190.0,422.0 Z" fill="#45c4e0"/>
<path d="M178.0,422.0 C178.0,425.3 176.1,429.1 172.9,432.0 C169.7,434.9 164.5,437.6 159.0,439.3 C153.5,441.0 146.3,442.0 140.0,442.0 C133.7,442.0 126.5,441.0 121.0,439.3 C115.5,437.6 110.3,434.9 107.1,432.0 C103.9,429.1 102.0,425.3 102.0,422.0 C102.0,418.7 103.9,414.9 107.1,412.0 C110.3,409.1 115.5,406.4 121.0,404.7 C126.5,403.0 133.7,402.0 140.0,402.0 C146.3,402.0 153.5,403.0 159.0,404.7 C164.5,406.4 169.7,409.1 172.9,412.0 C176.1,414.9 178.0,418.7 178.0,422.0 Z" fill="#72c04a"/>
<path d="M166.0,422.0 C166.0,424.2 164.7,426.6 162.5,428.5 C160.3,430.4 156.8,432.2 153.0,433.3 C149.2,434.4 144.3,435.0 140.0,435.0 C135.7,435.0 130.8,434.4 127.0,433.3 C123.2,432.2 119.7,430.4 117.5,428.5 C115.3,426.6 114.0,424.2 114.0,422.0 C114.0,419.8 115.3,417.4 117.5,415.5 C119.7,413.6 123.2,411.8 127.0,410.7 C130.8,409.6 135.7,409.0 140.0,409.0 C144.3,409.0 149.2,409.6 153.0,410.7 C156.8,411.8 160.3,413.6 162.5,415.5 C164.7,417.4 166.0,419.8 166.0,422.0 Z" fill="#ece034"/>
<path d="M156.0,422.0 C156.0,423.3 155.2,424.9 153.9,426.0 C152.6,427.1 150.3,428.2 148.0,428.9 C145.7,429.6 142.7,430.0 140.0,430.0 C137.3,430.0 134.3,429.6 132.0,428.9 C129.7,428.2 127.4,427.1 126.1,426.0 C124.8,424.9 124.0,423.3 124.0,422.0 C124.0,420.7 124.8,419.1 126.1,418.0 C127.4,416.9 129.7,415.8 132.0,415.1 C134.3,414.4 137.3,414.0 140.0,414.0 C142.7,414.0 145.7,414.4 148.0,415.1 C150.3,415.8 152.6,416.9 153.9,418.0 C155.2,419.1 156.0,420.7 156.0,422.0 Z" fill="#f39020"/>
<path d="M148.0,422.0 C148.0,422.8 147.6,423.8 146.9,424.5 C146.2,425.2 145.2,425.9 144.0,426.3 C142.8,426.7 141.3,427.0 140.0,427.0 C138.7,427.0 137.2,426.7 136.0,426.3 C134.8,425.9 133.8,425.2 133.1,424.5 C132.4,423.8 132.0,422.8 132.0,422.0 C132.0,421.2 132.4,420.2 133.1,419.5 C133.8,418.8 134.8,418.1 136.0,417.7 C137.2,417.3 138.7,417.0 140.0,417.0 C141.3,417.0 142.8,417.3 144.0,417.7 C145.2,418.1 146.2,418.8 146.9,419.5 C147.6,420.2 148.0,421.2 148.0,422.0 Z" fill="#e02a20"/>
<path d="M345,230 C347.5,221.7 355.8,212.5 360,210 C364.2,207.5 367.5,208.3 370,215 C372.5,221.7 375.3,235.8 375,250 C374.7,264.2 373.0,290.8 368,300 C363.0,309.2 350.5,306.7 345,305 C339.5,303.3 335.0,297.5 335,290 C335.0,282.5 343.3,270.0 345,260 C346.7,250.0 342.5,238.3 345,230 Z" fill="#2a55b8"/>
</g>
<g transform="translate(146,593) scale(0.15385)">
<path d="M90,410 C92.5,402.5 98.3,400.0 110,395 C121.7,390.0 147.5,384.2 160,380 C172.5,375.8 173.3,372.5 185,370 C196.7,367.5 215.0,371.7 230,365 C245.0,358.3 263.3,337.5 275,330 C286.7,322.5 292.5,317.5 300,320 C307.5,322.5 312.5,343.3 320,345 C327.5,346.7 339.2,337.5 345,330 C350.8,322.5 351.2,304.2 355,300 C358.8,295.8 365.5,296.7 368,305 C370.5,313.3 368.0,336.7 370,350 C372.0,363.3 374.2,375.8 380,385 C385.8,394.2 401.7,399.2 405,405 C408.3,410.8 405.8,414.2 400,420 C394.2,425.8 380.0,432.5 370,440 C360.0,447.5 355.0,458.7 340,465 C325.0,471.3 298.3,477.2 280,478 C261.7,478.8 245.0,473.8 230,470 C215.0,466.2 206.7,458.3 190,455 C173.3,451.7 145.8,452.5 130,450 C114.2,447.5 101.7,446.7 95,440 C88.3,433.3 87.5,417.5 90,410 Z" fill="#2a55b8"/>
<path d="M100,415 C108.3,410.0 133.3,403.3 150,400 C166.7,396.7 185.0,397.5 200,395 C215.0,392.5 226.7,389.2 240,385 C253.3,380.8 266.7,372.5 280,370 C293.3,367.5 308.3,367.5 320,370 C331.7,372.5 340.0,378.3 350,385 C360.0,391.7 376.7,402.5 380,410 C383.3,417.5 376.7,423.3 370,430 C363.3,436.7 353.3,444.2 340,450 C326.7,455.8 306.7,463.3 290,465 C273.3,466.7 256.7,463.3 240,460 C223.3,456.7 208.3,448.3 190,445 C171.7,441.7 145.0,442.5 130,440 C115.0,437.5 105.0,434.2 100,430 C95.0,425.8 91.7,420.0 100,415 Z" fill="#3d8fd6"/>
<path d="M190.0,425.0 C190.0,427.0 187.9,429.3 184.6,431.0 C181.3,432.7 175.8,434.4 170.0,435.4 C164.2,436.4 156.7,437.0 150.0,437.0 C143.3,437.0 135.8,436.4 130.0,435.4 C124.2,434.4 118.7,432.7 115.4,431.0 C112.1,429.3 110.0,427.0 110.0,425.0 C110.0,423.0 112.1,420.7 115.4,419.0 C118.7,417.3 124.2,415.6 130.0,414.6 C135.8,413.6 143.3,413.0 150.0,413.0 C156.7,413.0 164.2,413.6 170.0,414.6 C175.8,415.6 181.3,417.3 184.6,419.0 C187.9,420.7 190.0,423.0 190.0,425.0 Z" fill="#72c04a"/>
<path d="M345.0,432.0 C345.0,436.7 342.2,442.0 337.6,446.0 C333.0,450.0 325.4,453.9 317.5,456.2 C309.6,458.5 299.2,460.0 290.0,460.0 C280.8,460.0 270.4,458.5 262.5,456.2 C254.6,453.9 247.0,450.0 242.4,446.0 C237.8,442.0 235.0,436.7 235.0,432.0 C235.0,427.3 237.8,422.0 242.4,418.0 C247.0,414.0 254.6,410.1 262.5,407.8 C270.4,405.5 280.8,404.0 290.0,404.0 C299.2,404.0 309.6,405.5 317.5,407.8 C325.4,410.1 333.0,414.0 337.6,418.0 C342.2,422.0 345.0,427.3 345.0,432.0 Z" fill="#72c04a"/>
<path d="M325.0,432.0 C325.0,435.3 323.2,439.1 320.3,442.0 C317.4,444.9 312.6,447.6 307.5,449.3 C302.4,451.0 295.8,452.0 290.0,452.0 C284.2,452.0 277.6,451.0 272.5,449.3 C267.4,447.6 262.6,444.9 259.7,442.0 C256.8,439.1 255.0,435.3 255.0,432.0 C255.0,428.7 256.8,424.9 259.7,422.0 C262.6,419.1 267.4,416.4 272.5,414.7 C277.6,413.0 284.2,412.0 290.0,412.0 C295.8,412.0 302.4,413.0 307.5,414.7 C312.6,416.4 317.4,419.1 320.3,422.0 C323.2,424.9 325.0,428.7 325.0,432.0 Z" fill="#ece034"/>
<path d="M314.0,434.0 C314.0,436.2 312.9,438.6 311.1,440.5 C309.3,442.4 306.2,444.2 303.0,445.3 C299.8,446.4 295.7,447.0 292.0,447.0 C288.3,447.0 284.2,446.4 281.0,445.3 C277.8,444.2 274.7,442.4 272.9,440.5 C271.1,438.6 270.0,436.2 270.0,434.0 C270.0,431.8 271.1,429.4 272.9,427.5 C274.7,425.6 277.8,423.8 281.0,422.7 C284.2,421.6 288.3,421.0 292.0,421.0 C295.7,421.0 299.8,421.6 303.0,422.7 C306.2,423.8 309.3,425.6 311.1,427.5 C312.9,429.4 314.0,431.8 314.0,434.0 Z" fill="#f39020"/>
<path d="M305.0,435.0 C305.0,436.3 304.4,437.9 303.4,439.0 C302.4,440.1 300.7,441.2 299.0,441.9 C297.3,442.6 295.0,443.0 293.0,443.0 C291.0,443.0 288.7,442.6 287.0,441.9 C285.3,441.2 283.6,440.1 282.6,439.0 C281.6,437.9 281.0,436.3 281.0,435.0 C281.0,433.7 281.6,432.1 282.6,431.0 C283.6,429.9 285.3,428.8 287.0,428.1 C288.7,427.4 291.0,427.0 293.0,427.0 C295.0,427.0 297.3,427.4 299.0,428.1 C300.7,428.8 302.4,429.9 303.4,431.0 C304.4,432.1 305.0,433.7 305.0,435.0 Z" fill="#e02a20"/>
</g>
<rect x="42.5" y="371.2" width="74.0" height="74.19999999999999" fill="none" stroke="#666666" stroke-width="0.9"/>
<line x1="42.5" y1="371.2" x2="116.5" y2="371.2" stroke="#222" stroke-width="1.2"/>
<line x1="73.6" y1="371.2" x2="73.6" y2="445.4" stroke="#2a2a2a" stroke-width="1.3"/>
<line x1="42.5" y1="415.6" x2="116.5" y2="415.6" stroke="#2a2a2a" stroke-width="1.3"/>
<line x1="40.3" y1="379" x2="42.5" y2="379" stroke="#333" stroke-width="0.8"/>
<line x1="40.3" y1="398.5" x2="42.5" y2="398.5" stroke="#333" stroke-width="0.8"/>
<line x1="40.3" y1="418.5" x2="42.5" y2="418.5" stroke="#333" stroke-width="0.8"/>
<line x1="40.3" y1="428.7" x2="42.5" y2="428.7" stroke="#333" stroke-width="0.8"/>
<line x1="40.3" y1="442" x2="42.5" y2="442" stroke="#333" stroke-width="0.8"/>
<line x1="45.5" y1="445.4" x2="45.5" y2="447.59999999999997" stroke="#333" stroke-width="0.8"/>
<line x1="61" y1="445.4" x2="61" y2="447.59999999999997" stroke="#333" stroke-width="0.8"/>
<line x1="71.5" y1="445.4" x2="71.5" y2="447.59999999999997" stroke="#333" stroke-width="0.8"/>
<line x1="92" y1="445.4" x2="92" y2="447.59999999999997" stroke="#333" stroke-width="0.8"/>
<line x1="109.5" y1="445.4" x2="109.5" y2="447.59999999999997" stroke="#333" stroke-width="0.8"/>
<line x1="41.3" y1="383.875" x2="42.5" y2="383.875" stroke="#555" stroke-width="0.6"/>
<line x1="41.3" y1="388.75" x2="42.5" y2="388.75" stroke="#555" stroke-width="0.6"/>
<line x1="41.3" y1="393.625" x2="42.5" y2="393.625" stroke="#555" stroke-width="0.6"/>
<line x1="41.3" y1="403.5" x2="42.5" y2="403.5" stroke="#555" stroke-width="0.6"/>
<line x1="41.3" y1="408.5" x2="42.5" y2="408.5" stroke="#555" stroke-width="0.6"/>
<line x1="41.3" y1="413.5" x2="42.5" y2="413.5" stroke="#555" stroke-width="0.6"/>
<line x1="41.3" y1="421.05" x2="42.5" y2="421.05" stroke="#555" stroke-width="0.6"/>
<line x1="41.3" y1="423.6" x2="42.5" y2="423.6" stroke="#555" stroke-width="0.6"/>
<line x1="41.3" y1="426.15" x2="42.5" y2="426.15" stroke="#555" stroke-width="0.6"/>
<line x1="41.3" y1="432.025" x2="42.5" y2="432.025" stroke="#555" stroke-width="0.6"/>
<line x1="41.3" y1="435.35" x2="42.5" y2="435.35" stroke="#555" stroke-width="0.6"/>
<line x1="41.3" y1="438.675" x2="42.5" y2="438.675" stroke="#555" stroke-width="0.6"/>
<line x1="49.375" y1="445.4" x2="49.375" y2="446.59999999999997" stroke="#555" stroke-width="0.6"/>
<line x1="53.25" y1="445.4" x2="53.25" y2="446.59999999999997" stroke="#555" stroke-width="0.6"/>
<line x1="57.125" y1="445.4" x2="57.125" y2="446.59999999999997" stroke="#555" stroke-width="0.6"/>
<line x1="63.625" y1="445.4" x2="63.625" y2="446.59999999999997" stroke="#555" stroke-width="0.6"/>
<line x1="66.25" y1="445.4" x2="66.25" y2="446.59999999999997" stroke="#555" stroke-width="0.6"/>
<line x1="68.875" y1="445.4" x2="68.875" y2="446.59999999999997" stroke="#555" stroke-width="0.6"/>
<line x1="76.625" y1="445.4" x2="76.625" y2="446.59999999999997" stroke="#555" stroke-width="0.6"/>
<line x1="81.75" y1="445.4" x2="81.75" y2="446.59999999999997" stroke="#555" stroke-width="0.6"/>
<line x1="86.875" y1="445.4" x2="86.875" y2="446.59999999999997" stroke="#555" stroke-width="0.6"/>
<line x1="96.375" y1="445.4" x2="96.375" y2="446.59999999999997" stroke="#555" stroke-width="0.6"/>
<line x1="100.75" y1="445.4" x2="100.75" y2="446.59999999999997" stroke="#555" stroke-width="0.6"/>
<line x1="105.125" y1="445.4" x2="105.125" y2="446.59999999999997" stroke="#555" stroke-width="0.6"/>
<text x="34.9" y="382.4" font-size="6.2" text-anchor="end" fill="#231f20" stroke="#231f20" stroke-width="0.18">10</text>
<text x="35.1" y="379.79999999999995" font-size="4.34" fill="#231f20" stroke="#231f20" stroke-width="0.18">5</text>
<text x="34.9" y="400.3" font-size="6.2" text-anchor="end" fill="#231f20" stroke="#231f20" stroke-width="0.18">10</text>
<text x="35.1" y="397.7" font-size="4.34" fill="#231f20" stroke="#231f20" stroke-width="0.18">4</text>
<text x="34.9" y="420.5" font-size="6.2" text-anchor="end" fill="#231f20" stroke="#231f20" stroke-width="0.18">10</text>
<text x="35.1" y="417.9" font-size="4.34" fill="#231f20" stroke="#231f20" stroke-width="0.18">3</text>
<text x="34.9" y="432.1" font-size="6.2" text-anchor="end" fill="#231f20" stroke="#231f20" stroke-width="0.18">0</text>
<text x="34.9" y="442.8" font-size="6.2" text-anchor="end" fill="#231f20" stroke="#231f20" stroke-width="0.18">−10</text>
<text x="35.1" y="440.2" font-size="4.34" fill="#231f20" stroke="#231f20" stroke-width="0.18">3</text>
<text x="46" y="455.8" font-size="6.2" text-anchor="middle" fill="#231f20" stroke="#231f20" stroke-width="0.18">−10<tspan dy="-2.6" font-size="4.3">3</tspan></text>
<text x="61" y="455.8" font-size="6.2" text-anchor="middle" fill="#231f20" stroke="#231f20" stroke-width="0.18">0</text>
<text x="72" y="455.8" font-size="6.2" text-anchor="middle" fill="#231f20" stroke="#231f20" stroke-width="0.18">10<tspan dy="-2.6" font-size="4.3">3</tspan></text>
<text x="92.5" y="455.8" font-size="6.2" text-anchor="middle" fill="#231f20" stroke="#231f20" stroke-width="0.18">10<tspan dy="-2.6" font-size="4.3">4</tspan></text>
<text x="110.5" y="455.8" font-size="6.2" text-anchor="middle" fill="#231f20" stroke="#231f20" stroke-width="0.18">10<tspan dy="-2.6" font-size="4.3">5</tspan></text>
<text x="43.7" y="378.9" font-size="6.2" fill="#231f20" stroke="#231f20" stroke-width="0.18">Q3</text>
<text x="115.5" y="378.9" font-size="6.2" text-anchor="end" fill="#231f20" stroke="#231f20" stroke-width="0.18">Q2</text>
<text x="43.7" y="443.2" font-size="6.2" fill="#231f20" stroke="#231f20" stroke-width="0.18">Q4</text>
<text x="115.5" y="443.2" font-size="6.2" text-anchor="end" fill="#231f20" stroke="#231f20" stroke-width="0.18">Q1</text>
<rect x="142.4" y="371.2" width="74.1" height="74.19999999999999" fill="none" stroke="#666666" stroke-width="0.9"/>
<line x1="142.4" y1="371.2" x2="216.5" y2="371.2" stroke="#222" stroke-width="1.2"/>
<line x1="173.8" y1="371.2" x2="173.8" y2="445.4" stroke="#2a2a2a" stroke-width="1.3"/>
<line x1="142.4" y1="415.8" x2="216.5" y2="415.8" stroke="#2a2a2a" stroke-width="1.3"/>
<line x1="140.20000000000002" y1="379" x2="142.4" y2="379" stroke="#333" stroke-width="0.8"/>
<line x1="140.20000000000002" y1="398.5" x2="142.4" y2="398.5" stroke="#333" stroke-width="0.8"/>
<line x1="140.20000000000002" y1="418.5" x2="142.4" y2="418.5" stroke="#333" stroke-width="0.8"/>
<line x1="140.20000000000002" y1="428.7" x2="142.4" y2="428.7" stroke="#333" stroke-width="0.8"/>
<line x1="140.20000000000002" y1="442" x2="142.4" y2="442" stroke="#333" stroke-width="0.8"/>
<line x1="145.5" y1="445.4" x2="145.5" y2="447.59999999999997" stroke="#333" stroke-width="0.8"/>
<line x1="161" y1="445.4" x2="161" y2="447.59999999999997" stroke="#333" stroke-width="0.8"/>
<line x1="171.5" y1="445.4" x2="171.5" y2="447.59999999999997" stroke="#333" stroke-width="0.8"/>
<line x1="192" y1="445.4" x2="192" y2="447.59999999999997" stroke="#333" stroke-width="0.8"/>
<line x1="209.5" y1="445.4" x2="209.5" y2="447.59999999999997" stroke="#333" stroke-width="0.8"/>
<line x1="141.20000000000002" y1="383.875" x2="142.4" y2="383.875" stroke="#555" stroke-width="0.6"/>
<line x1="141.20000000000002" y1="388.75" x2="142.4" y2="388.75" stroke="#555" stroke-width="0.6"/>
<line x1="141.20000000000002" y1="393.625" x2="142.4" y2="393.625" stroke="#555" stroke-width="0.6"/>
<line x1="141.20000000000002" y1="403.5" x2="142.4" y2="403.5" stroke="#555" stroke-width="0.6"/>
<line x1="141.20000000000002" y1="408.5" x2="142.4" y2="408.5" stroke="#555" stroke-width="0.6"/>
<line x1="141.20000000000002" y1="413.5" x2="142.4" y2="413.5" stroke="#555" stroke-width="0.6"/>
<line x1="141.20000000000002" y1="421.05" x2="142.4" y2="421.05" stroke="#555" stroke-width="0.6"/>
<line x1="141.20000000000002" y1="423.6" x2="142.4" y2="423.6" stroke="#555" stroke-width="0.6"/>
<line x1="141.20000000000002" y1="426.15" x2="142.4" y2="426.15" stroke="#555" stroke-width="0.6"/>
<line x1="141.20000000000002" y1="432.025" x2="142.4" y2="432.025" stroke="#555" stroke-width="0.6"/>
<line x1="141.20000000000002" y1="435.35" x2="142.4" y2="435.35" stroke="#555" stroke-width="0.6"/>
<line x1="141.20000000000002" y1="438.675" x2="142.4" y2="438.675" stroke="#555" stroke-width="0.6"/>
<line x1="149.375" y1="445.4" x2="149.375" y2="446.59999999999997" stroke="#555" stroke-width="0.6"/>
<line x1="153.25" y1="445.4" x2="153.25" y2="446.59999999999997" stroke="#555" stroke-width="0.6"/>
<line x1="157.125" y1="445.4" x2="157.125" y2="446.59999999999997" stroke="#555" stroke-width="0.6"/>
<line x1="163.625" y1="445.4" x2="163.625" y2="446.59999999999997" stroke="#555" stroke-width="0.6"/>
<line x1="166.25" y1="445.4" x2="166.25" y2="446.59999999999997" stroke="#555" stroke-width="0.6"/>
<line x1="168.875" y1="445.4" x2="168.875" y2="446.59999999999997" stroke="#555" stroke-width="0.6"/>
<line x1="176.625" y1="445.4" x2="176.625" y2="446.59999999999997" stroke="#555" stroke-width="0.6"/>
<line x1="181.75" y1="445.4" x2="181.75" y2="446.59999999999997" stroke="#555" stroke-width="0.6"/>
<line x1="186.875" y1="445.4" x2="186.875" y2="446.59999999999997" stroke="#555" stroke-width="0.6"/>
<line x1="196.375" y1="445.4" x2="196.375" y2="446.59999999999997" stroke="#555" stroke-width="0.6"/>
<line x1="200.75" y1="445.4" x2="200.75" y2="446.59999999999997" stroke="#555" stroke-width="0.6"/>
<line x1="205.125" y1="445.4" x2="205.125" y2="446.59999999999997" stroke="#555" stroke-width="0.6"/>
<text x="134.8" y="382.4" font-size="6.2" text-anchor="end" fill="#231f20" stroke="#231f20" stroke-width="0.18">10</text>
<text x="135.0" y="379.79999999999995" font-size="4.34" fill="#231f20" stroke="#231f20" stroke-width="0.18">5</text>
<text x="134.8" y="400.3" font-size="6.2" text-anchor="end" fill="#231f20" stroke="#231f20" stroke-width="0.18">10</text>
<text x="135.0" y="397.7" font-size="4.34" fill="#231f20" stroke="#231f20" stroke-width="0.18">4</text>
<text x="134.8" y="420.5" font-size="6.2" text-anchor="end" fill="#231f20" stroke="#231f20" stroke-width="0.18">10</text>
<text x="135.0" y="417.9" font-size="4.34" fill="#231f20" stroke="#231f20" stroke-width="0.18">3</text>
<text x="134.8" y="432.1" font-size="6.2" text-anchor="end" fill="#231f20" stroke="#231f20" stroke-width="0.18">0</text>
<text x="134.8" y="442.8" font-size="6.2" text-anchor="end" fill="#231f20" stroke="#231f20" stroke-width="0.18">−10</text>
<text x="135.0" y="440.2" font-size="4.34" fill="#231f20" stroke="#231f20" stroke-width="0.18">3</text>
<text x="146" y="455.8" font-size="6.2" text-anchor="middle" fill="#231f20" stroke="#231f20" stroke-width="0.18">−10<tspan dy="-2.6" font-size="4.3">3</tspan></text>
<text x="161" y="455.8" font-size="6.2" text-anchor="middle" fill="#231f20" stroke="#231f20" stroke-width="0.18">0</text>
<text x="172" y="455.8" font-size="6.2" text-anchor="middle" fill="#231f20" stroke="#231f20" stroke-width="0.18">10<tspan dy="-2.6" font-size="4.3">3</tspan></text>
<text x="192.5" y="455.8" font-size="6.2" text-anchor="middle" fill="#231f20" stroke="#231f20" stroke-width="0.18">10<tspan dy="-2.6" font-size="4.3">4</tspan></text>
<text x="210.5" y="455.8" font-size="6.2" text-anchor="middle" fill="#231f20" stroke="#231f20" stroke-width="0.18">10<tspan dy="-2.6" font-size="4.3">5</tspan></text>
<text x="143.6" y="378.9" font-size="6.2" fill="#231f20" stroke="#231f20" stroke-width="0.18">Q3</text>
<text x="215.5" y="378.9" font-size="6.2" text-anchor="end" fill="#231f20" stroke="#231f20" stroke-width="0.18">Q2</text>
<text x="143.6" y="443.2" font-size="6.2" fill="#231f20" stroke="#231f20" stroke-width="0.18">Q4</text>
<text x="215.5" y="443.2" font-size="6.2" text-anchor="end" fill="#231f20" stroke="#231f20" stroke-width="0.18">Q1</text>
<text x="101.2" y="402.6" font-size="6.2" text-anchor="middle" fill="#231f20" stroke="#231f20" stroke-width="0.18">10.2%</text>
<text x="190.4" y="384.4" font-size="6.2" text-anchor="middle" fill="#231f20" stroke="#231f20" stroke-width="0.18">25.5%</text>
<rect x="46.2" y="482.3" width="74.3" height="74.19999999999999" fill="none" stroke="#666666" stroke-width="0.9"/>
<rect x="77.6" y="500" width="42.900000000000006" height="56.5" fill="none" stroke="#444" stroke-width="0.9"/>
<line x1="44.0" y1="486.25" x2="46.2" y2="486.25" stroke="#333" stroke-width="0.8"/>
<line x1="44.0" y1="500.25" x2="46.2" y2="500.25" stroke="#333" stroke-width="0.8"/>
<line x1="44.0" y1="514.5" x2="46.2" y2="514.5" stroke="#333" stroke-width="0.8"/>
<line x1="44.0" y1="528.75" x2="46.2" y2="528.75" stroke="#333" stroke-width="0.8"/>
<line x1="44.0" y1="542.5" x2="46.2" y2="542.5" stroke="#333" stroke-width="0.8"/>
<line x1="44.0" y1="556.25" x2="46.2" y2="556.25" stroke="#333" stroke-width="0.8"/>
<line x1="51" y1="556.5" x2="51" y2="558.7" stroke="#333" stroke-width="0.8"/>
<line x1="64.5" y1="556.5" x2="64.5" y2="558.7" stroke="#333" stroke-width="0.8"/>
<line x1="73.75" y1="556.5" x2="73.75" y2="558.7" stroke="#333" stroke-width="0.8"/>
<line x1="94.5" y1="556.5" x2="94.5" y2="558.7" stroke="#333" stroke-width="0.8"/>
<line x1="113.75" y1="556.5" x2="113.75" y2="558.7" stroke="#333" stroke-width="0.8"/>
<line x1="45.0" y1="489.75" x2="46.2" y2="489.75" stroke="#555" stroke-width="0.6"/>
<line x1="45.0" y1="493.25" x2="46.2" y2="493.25" stroke="#555" stroke-width="0.6"/>
<line x1="45.0" y1="496.75" x2="46.2" y2="496.75" stroke="#555" stroke-width="0.6"/>
<line x1="45.0" y1="503.8125" x2="46.2" y2="503.8125" stroke="#555" stroke-width="0.6"/>
<line x1="45.0" y1="507.375" x2="46.2" y2="507.375" stroke="#555" stroke-width="0.6"/>
<line x1="45.0" y1="510.9375" x2="46.2" y2="510.9375" stroke="#555" stroke-width="0.6"/>
<line x1="45.0" y1="518.0625" x2="46.2" y2="518.0625" stroke="#555" stroke-width="0.6"/>
<line x1="45.0" y1="521.625" x2="46.2" y2="521.625" stroke="#555" stroke-width="0.6"/>
<line x1="45.0" y1="525.1875" x2="46.2" y2="525.1875" stroke="#555" stroke-width="0.6"/>
<line x1="45.0" y1="532.1875" x2="46.2" y2="532.1875" stroke="#555" stroke-width="0.6"/>
<line x1="45.0" y1="535.625" x2="46.2" y2="535.625" stroke="#555" stroke-width="0.6"/>
<line x1="45.0" y1="539.0625" x2="46.2" y2="539.0625" stroke="#555" stroke-width="0.6"/>
<line x1="45.0" y1="545.9375" x2="46.2" y2="545.9375" stroke="#555" stroke-width="0.6"/>
<line x1="45.0" y1="549.375" x2="46.2" y2="549.375" stroke="#555" stroke-width="0.6"/>
<line x1="45.0" y1="552.8125" x2="46.2" y2="552.8125" stroke="#555" stroke-width="0.6"/>
<line x1="54.375" y1="556.5" x2="54.375" y2="557.7" stroke="#555" stroke-width="0.6"/>
<line x1="57.75" y1="556.5" x2="57.75" y2="557.7" stroke="#555" stroke-width="0.6"/>
<line x1="61.125" y1="556.5" x2="61.125" y2="557.7" stroke="#555" stroke-width="0.6"/>
<line x1="66.8125" y1="556.5" x2="66.8125" y2="557.7" stroke="#555" stroke-width="0.6"/>
<line x1="69.125" y1="556.5" x2="69.125" y2="557.7" stroke="#555" stroke-width="0.6"/>
<line x1="71.4375" y1="556.5" x2="71.4375" y2="557.7" stroke="#555" stroke-width="0.6"/>
<line x1="78.9375" y1="556.5" x2="78.9375" y2="557.7" stroke="#555" stroke-width="0.6"/>
<line x1="84.125" y1="556.5" x2="84.125" y2="557.7" stroke="#555" stroke-width="0.6"/>
<line x1="89.3125" y1="556.5" x2="89.3125" y2="557.7" stroke="#555" stroke-width="0.6"/>
<line x1="99.3125" y1="556.5" x2="99.3125" y2="557.7" stroke="#555" stroke-width="0.6"/>
<line x1="104.125" y1="556.5" x2="104.125" y2="557.7" stroke="#555" stroke-width="0.6"/>
<line x1="108.9375" y1="556.5" x2="108.9375" y2="557.7" stroke="#555" stroke-width="0.6"/>
<text x="41.0" y="489.05" font-size="6.2" text-anchor="end" fill="#231f20" stroke="#231f20" stroke-width="0.18">250K</text>
<text x="41.0" y="503.05" font-size="6.2" text-anchor="end" fill="#231f20" stroke="#231f20" stroke-width="0.18">200K</text>
<text x="41.0" y="517.3" font-size="6.2" text-anchor="end" fill="#231f20" stroke="#231f20" stroke-width="0.18">150K</text>
<text x="41.0" y="531.55" font-size="6.2" text-anchor="end" fill="#231f20" stroke="#231f20" stroke-width="0.18">100K</text>
<text x="41.0" y="545.3" font-size="6.2" text-anchor="end" fill="#231f20" stroke="#231f20" stroke-width="0.18">50K</text>
<text x="41.0" y="559.05" font-size="6.2" text-anchor="end" fill="#231f20" stroke="#231f20" stroke-width="0.18">0</text>
<text x="51" y="568.6" font-size="6.2" text-anchor="middle" fill="#231f20" stroke="#231f20" stroke-width="0.18">−10<tspan dy="-2.6" font-size="4.3">3</tspan></text>
<text x="64.5" y="568.6" font-size="6.2" text-anchor="middle" fill="#231f20" stroke="#231f20" stroke-width="0.18">0</text>
<text x="73.75" y="568.6" font-size="6.2" text-anchor="middle" fill="#231f20" stroke="#231f20" stroke-width="0.18">10<tspan dy="-2.6" font-size="4.3">3</tspan></text>
<text x="94.5" y="568.6" font-size="6.2" text-anchor="middle" fill="#231f20" stroke="#231f20" stroke-width="0.18">10<tspan dy="-2.6" font-size="4.3">4</tspan></text>
<text x="113.75" y="568.6" font-size="6.2" text-anchor="middle" fill="#231f20" stroke="#231f20" stroke-width="0.18">10<tspan dy="-2.6" font-size="4.3">5</tspan></text>
<rect x="148" y="482.3" width="74.5" height="74.19999999999999" fill="none" stroke="#666666" stroke-width="0.9"/>
<rect x="181.4" y="500" width="41.099999999999994" height="56.5" fill="none" stroke="#444" stroke-width="0.9"/>
<line x1="145.8" y1="486.25" x2="148" y2="486.25" stroke="#333" stroke-width="0.8"/>
<line x1="145.8" y1="500.25" x2="148" y2="500.25" stroke="#333" stroke-width="0.8"/>
<line x1="145.8" y1="514.5" x2="148" y2="514.5" stroke="#333" stroke-width="0.8"/>
<line x1="145.8" y1="528.75" x2="148" y2="528.75" stroke="#333" stroke-width="0.8"/>
<line x1="145.8" y1="542.5" x2="148" y2="542.5" stroke="#333" stroke-width="0.8"/>
<line x1="145.8" y1="556.25" x2="148" y2="556.25" stroke="#333" stroke-width="0.8"/>
<line x1="153.3" y1="556.5" x2="153.3" y2="558.7" stroke="#333" stroke-width="0.8"/>
<line x1="166.8" y1="556.5" x2="166.8" y2="558.7" stroke="#333" stroke-width="0.8"/>
<line x1="176.05" y1="556.5" x2="176.05" y2="558.7" stroke="#333" stroke-width="0.8"/>
<line x1="196.8" y1="556.5" x2="196.8" y2="558.7" stroke="#333" stroke-width="0.8"/>
<line x1="216.05" y1="556.5" x2="216.05" y2="558.7" stroke="#333" stroke-width="0.8"/>
<line x1="146.8" y1="489.75" x2="148" y2="489.75" stroke="#555" stroke-width="0.6"/>
<line x1="146.8" y1="493.25" x2="148" y2="493.25" stroke="#555" stroke-width="0.6"/>
<line x1="146.8" y1="496.75" x2="148" y2="496.75" stroke="#555" stroke-width="0.6"/>
<line x1="146.8" y1="503.8125" x2="148" y2="503.8125" stroke="#555" stroke-width="0.6"/>
<line x1="146.8" y1="507.375" x2="148" y2="507.375" stroke="#555" stroke-width="0.6"/>
<line x1="146.8" y1="510.9375" x2="148" y2="510.9375" stroke="#555" stroke-width="0.6"/>
<line x1="146.8" y1="518.0625" x2="148" y2="518.0625" stroke="#555" stroke-width="0.6"/>
<line x1="146.8" y1="521.625" x2="148" y2="521.625" stroke="#555" stroke-width="0.6"/>
<line x1="146.8" y1="525.1875" x2="148" y2="525.1875" stroke="#555" stroke-width="0.6"/>
<line x1="146.8" y1="532.1875" x2="148" y2="532.1875" stroke="#555" stroke-width="0.6"/>
<line x1="146.8" y1="535.625" x2="148" y2="535.625" stroke="#555" stroke-width="0.6"/>
<line x1="146.8" y1="539.0625" x2="148" y2="539.0625" stroke="#555" stroke-width="0.6"/>
<line x1="146.8" y1="545.9375" x2="148" y2="545.9375" stroke="#555" stroke-width="0.6"/>
<line x1="146.8" y1="549.375" x2="148" y2="549.375" stroke="#555" stroke-width="0.6"/>
<line x1="146.8" y1="552.8125" x2="148" y2="552.8125" stroke="#555" stroke-width="0.6"/>
<line x1="156.675" y1="556.5" x2="156.675" y2="557.7" stroke="#555" stroke-width="0.6"/>
<line x1="160.05" y1="556.5" x2="160.05" y2="557.7" stroke="#555" stroke-width="0.6"/>
<line x1="163.425" y1="556.5" x2="163.425" y2="557.7" stroke="#555" stroke-width="0.6"/>
<line x1="169.1125" y1="556.5" x2="169.1125" y2="557.7" stroke="#555" stroke-width="0.6"/>
<line x1="171.425" y1="556.5" x2="171.425" y2="557.7" stroke="#555" stroke-width="0.6"/>
<line x1="173.7375" y1="556.5" x2="173.7375" y2="557.7" stroke="#555" stroke-width="0.6"/>
<line x1="181.2375" y1="556.5" x2="181.2375" y2="557.7" stroke="#555" stroke-width="0.6"/>
<line x1="186.425" y1="556.5" x2="186.425" y2="557.7" stroke="#555" stroke-width="0.6"/>
<line x1="191.6125" y1="556.5" x2="191.6125" y2="557.7" stroke="#555" stroke-width="0.6"/>
<line x1="201.6125" y1="556.5" x2="201.6125" y2="557.7" stroke="#555" stroke-width="0.6"/>
<line x1="206.425" y1="556.5" x2="206.425" y2="557.7" stroke="#555" stroke-width="0.6"/>
<line x1="211.2375" y1="556.5" x2="211.2375" y2="557.7" stroke="#555" stroke-width="0.6"/>
<text x="142.8" y="489.05" font-size="6.2" text-anchor="end" fill="#231f20" stroke="#231f20" stroke-width="0.18">250K</text>
<text x="142.8" y="503.05" font-size="6.2" text-anchor="end" fill="#231f20" stroke="#231f20" stroke-width="0.18">200K</text>
<text x="142.8" y="517.3" font-size="6.2" text-anchor="end" fill="#231f20" stroke="#231f20" stroke-width="0.18">150K</text>
<text x="142.8" y="531.55" font-size="6.2" text-anchor="end" fill="#231f20" stroke="#231f20" stroke-width="0.18">100K</text>
<text x="142.8" y="545.3" font-size="6.2" text-anchor="end" fill="#231f20" stroke="#231f20" stroke-width="0.18">50K</text>
<text x="142.8" y="559.05" font-size="6.2" text-anchor="end" fill="#231f20" stroke="#231f20" stroke-width="0.18">0</text>
<text x="153.3" y="568.6" font-size="6.2" text-anchor="middle" fill="#231f20" stroke="#231f20" stroke-width="0.18">−10<tspan dy="-2.6" font-size="4.3">3</tspan></text>
<text x="166.8" y="568.6" font-size="6.2" text-anchor="middle" fill="#231f20" stroke="#231f20" stroke-width="0.18">0</text>
<text x="176.05" y="568.6" font-size="6.2" text-anchor="middle" fill="#231f20" stroke="#231f20" stroke-width="0.18">10<tspan dy="-2.6" font-size="4.3">3</tspan></text>
<text x="196.8" y="568.6" font-size="6.2" text-anchor="middle" fill="#231f20" stroke="#231f20" stroke-width="0.18">10<tspan dy="-2.6" font-size="4.3">4</tspan></text>
<text x="216.05" y="568.6" font-size="6.2" text-anchor="middle" fill="#231f20" stroke="#231f20" stroke-width="0.18">10<tspan dy="-2.6" font-size="4.3">5</tspan></text>
<rect x="46.2" y="594.5" width="74.3" height="74.20000000000005" fill="none" stroke="#666666" stroke-width="0.9"/>
<rect x="78.2" y="615.8" width="42.3" height="52.90000000000009" fill="none" stroke="#444" stroke-width="0.9"/>
<line x1="44.0" y1="598.75" x2="46.2" y2="598.75" stroke="#333" stroke-width="0.8"/>
<line x1="44.0" y1="612.5" x2="46.2" y2="612.5" stroke="#333" stroke-width="0.8"/>
<line x1="44.0" y1="627" x2="46.2" y2="627" stroke="#333" stroke-width="0.8"/>
<line x1="44.0" y1="641.25" x2="46.2" y2="641.25" stroke="#333" stroke-width="0.8"/>
<line x1="44.0" y1="655.25" x2="46.2" y2="655.25" stroke="#333" stroke-width="0.8"/>
<line x1="44.0" y1="668.25" x2="46.2" y2="668.25" stroke="#333" stroke-width="0.8"/>
<line x1="51" y1="668.7" x2="51" y2="670.9000000000001" stroke="#333" stroke-width="0.8"/>
<line x1="64.5" y1="668.7" x2="64.5" y2="670.9000000000001" stroke="#333" stroke-width="0.8"/>
<line x1="73.75" y1="668.7" x2="73.75" y2="670.9000000000001" stroke="#333" stroke-width="0.8"/>
<line x1="94.5" y1="668.7" x2="94.5" y2="670.9000000000001" stroke="#333" stroke-width="0.8"/>
<line x1="113.75" y1="668.7" x2="113.75" y2="670.9000000000001" stroke="#333" stroke-width="0.8"/>
<line x1="45.0" y1="602.1875" x2="46.2" y2="602.1875" stroke="#555" stroke-width="0.6"/>
<line x1="45.0" y1="605.625" x2="46.2" y2="605.625" stroke="#555" stroke-width="0.6"/>
<line x1="45.0" y1="609.0625" x2="46.2" y2="609.0625" stroke="#555" stroke-width="0.6"/>
<line x1="45.0" y1="616.125" x2="46.2" y2="616.125" stroke="#555" stroke-width="0.6"/>
<line x1="45.0" y1="619.75" x2="46.2" y2="619.75" stroke="#555" stroke-width="0.6"/>
<line x1="45.0" y1="623.375" x2="46.2" y2="623.375" stroke="#555" stroke-width="0.6"/>
<line x1="45.0" y1="630.5625" x2="46.2" y2="630.5625" stroke="#555" stroke-width="0.6"/>
<line x1="45.0" y1="634.125" x2="46.2" y2="634.125" stroke="#555" stroke-width="0.6"/>
<line x1="45.0" y1="637.6875" x2="46.2" y2="637.6875" stroke="#555" stroke-width="0.6"/>
<line x1="45.0" y1="644.75" x2="46.2" y2="644.75" stroke="#555" stroke-width="0.6"/>
<line x1="45.0" y1="648.25" x2="46.2" y2="648.25" stroke="#555" stroke-width="0.6"/>
<line x1="45.0" y1="651.75" x2="46.2" y2="651.75" stroke="#555" stroke-width="0.6"/>
<line x1="45.0" y1="658.5" x2="46.2" y2="658.5" stroke="#555" stroke-width="0.6"/>
<line x1="45.0" y1="661.75" x2="46.2" y2="661.75" stroke="#555" stroke-width="0.6"/>
<line x1="45.0" y1="665.0" x2="46.2" y2="665.0" stroke="#555" stroke-width="0.6"/>
<line x1="54.375" y1="668.7" x2="54.375" y2="669.9000000000001" stroke="#555" stroke-width="0.6"/>
<line x1="57.75" y1="668.7" x2="57.75" y2="669.9000000000001" stroke="#555" stroke-width="0.6"/>
<line x1="61.125" y1="668.7" x2="61.125" y2="669.9000000000001" stroke="#555" stroke-width="0.6"/>
<line x1="66.8125" y1="668.7" x2="66.8125" y2="669.9000000000001" stroke="#555" stroke-width="0.6"/>
<line x1="69.125" y1="668.7" x2="69.125" y2="669.9000000000001" stroke="#555" stroke-width="0.6"/>
<line x1="71.4375" y1="668.7" x2="71.4375" y2="669.9000000000001" stroke="#555" stroke-width="0.6"/>
<line x1="78.9375" y1="668.7" x2="78.9375" y2="669.9000000000001" stroke="#555" stroke-width="0.6"/>
<line x1="84.125" y1="668.7" x2="84.125" y2="669.9000000000001" stroke="#555" stroke-width="0.6"/>
<line x1="89.3125" y1="668.7" x2="89.3125" y2="669.9000000000001" stroke="#555" stroke-width="0.6"/>
<line x1="99.3125" y1="668.7" x2="99.3125" y2="669.9000000000001" stroke="#555" stroke-width="0.6"/>
<line x1="104.125" y1="668.7" x2="104.125" y2="669.9000000000001" stroke="#555" stroke-width="0.6"/>
<line x1="108.9375" y1="668.7" x2="108.9375" y2="669.9000000000001" stroke="#555" stroke-width="0.6"/>
<text x="41.0" y="601.55" font-size="6.2" text-anchor="end" fill="#231f20" stroke="#231f20" stroke-width="0.18">250K</text>
<text x="41.0" y="615.3" font-size="6.2" text-anchor="end" fill="#231f20" stroke="#231f20" stroke-width="0.18">200K</text>
<text x="41.0" y="629.8" font-size="6.2" text-anchor="end" fill="#231f20" stroke="#231f20" stroke-width="0.18">150K</text>
<text x="41.0" y="644.05" font-size="6.2" text-anchor="end" fill="#231f20" stroke="#231f20" stroke-width="0.18">100K</text>
<text x="41.0" y="658.05" font-size="6.2" text-anchor="end" fill="#231f20" stroke="#231f20" stroke-width="0.18">50K</text>
<text x="41.0" y="671.05" font-size="6.2" text-anchor="end" fill="#231f20" stroke="#231f20" stroke-width="0.18">0</text>
<text x="51" y="680" font-size="6.2" text-anchor="middle" fill="#231f20" stroke="#231f20" stroke-width="0.18">−10<tspan dy="-2.6" font-size="4.3">3</tspan></text>
<text x="64.5" y="680" font-size="6.2" text-anchor="middle" fill="#231f20" stroke="#231f20" stroke-width="0.18">0</text>
<text x="73.75" y="680" font-size="6.2" text-anchor="middle" fill="#231f20" stroke="#231f20" stroke-width="0.18">10<tspan dy="-2.6" font-size="4.3">3</tspan></text>
<text x="94.5" y="680" font-size="6.2" text-anchor="middle" fill="#231f20" stroke="#231f20" stroke-width="0.18">10<tspan dy="-2.6" font-size="4.3">4</tspan></text>
<text x="113.75" y="680" font-size="6.2" text-anchor="middle" fill="#231f20" stroke="#231f20" stroke-width="0.18">10<tspan dy="-2.6" font-size="4.3">5</tspan></text>
<rect x="148" y="594.5" width="74.5" height="74.20000000000005" fill="none" stroke="#666666" stroke-width="0.9"/>
<rect x="179.8" y="615.8" width="42.69999999999999" height="52.90000000000009" fill="none" stroke="#444" stroke-width="0.9"/>
<line x1="145.8" y1="598.75" x2="148" y2="598.75" stroke="#333" stroke-width="0.8"/>
<line x1="145.8" y1="612.5" x2="148" y2="612.5" stroke="#333" stroke-width="0.8"/>
<line x1="145.8" y1="627" x2="148" y2="627" stroke="#333" stroke-width="0.8"/>
<line x1="145.8" y1="641.25" x2="148" y2="641.25" stroke="#333" stroke-width="0.8"/>
<line x1="145.8" y1="655.25" x2="148" y2="655.25" stroke="#333" stroke-width="0.8"/>
<line x1="145.8" y1="668.25" x2="148" y2="668.25" stroke="#333" stroke-width="0.8"/>
<line x1="153.3" y1="668.7" x2="153.3" y2="670.9000000000001" stroke="#333" stroke-width="0.8"/>
<line x1="166.8" y1="668.7" x2="166.8" y2="670.9000000000001" stroke="#333" stroke-width="0.8"/>
<line x1="176.05" y1="668.7" x2="176.05" y2="670.9000000000001" stroke="#333" stroke-width="0.8"/>
<line x1="196.8" y1="668.7" x2="196.8" y2="670.9000000000001" stroke="#333" stroke-width="0.8"/>
<line x1="216.05" y1="668.7" x2="216.05" y2="670.9000000000001" stroke="#333" stroke-width="0.8"/>
<line x1="146.8" y1="602.1875" x2="148" y2="602.1875" stroke="#555" stroke-width="0.6"/>
<line x1="146.8" y1="605.625" x2="148" y2="605.625" stroke="#555" stroke-width="0.6"/>
<line x1="146.8" y1="609.0625" x2="148" y2="609.0625" stroke="#555" stroke-width="0.6"/>
<line x1="146.8" y1="616.125" x2="148" y2="616.125" stroke="#555" stroke-width="0.6"/>
<line x1="146.8" y1="619.75" x2="148" y2="619.75" stroke="#555" stroke-width="0.6"/>
<line x1="146.8" y1="623.375" x2="148" y2="623.375" stroke="#555" stroke-width="0.6"/>
<line x1="146.8" y1="630.5625" x2="148" y2="630.5625" stroke="#555" stroke-width="0.6"/>
<line x1="146.8" y1="634.125" x2="148" y2="634.125" stroke="#555" stroke-width="0.6"/>
<line x1="146.8" y1="637.6875" x2="148" y2="637.6875" stroke="#555" stroke-width="0.6"/>
<line x1="146.8" y1="644.75" x2="148" y2="644.75" stroke="#555" stroke-width="0.6"/>
<line x1="146.8" y1="648.25" x2="148" y2="648.25" stroke="#555" stroke-width="0.6"/>
<line x1="146.8" y1="651.75" x2="148" y2="651.75" stroke="#555" stroke-width="0.6"/>
<line x1="146.8" y1="658.5" x2="148" y2="658.5" stroke="#555" stroke-width="0.6"/>
<line x1="146.8" y1="661.75" x2="148" y2="661.75" stroke="#555" stroke-width="0.6"/>
<line x1="146.8" y1="665.0" x2="148" y2="665.0" stroke="#555" stroke-width="0.6"/>
<line x1="156.675" y1="668.7" x2="156.675" y2="669.9000000000001" stroke="#555" stroke-width="0.6"/>
<line x1="160.05" y1="668.7" x2="160.05" y2="669.9000000000001" stroke="#555" stroke-width="0.6"/>
<line x1="163.425" y1="668.7" x2="163.425" y2="669.9000000000001" stroke="#555" stroke-width="0.6"/>
<line x1="169.1125" y1="668.7" x2="169.1125" y2="669.9000000000001" stroke="#555" stroke-width="0.6"/>
<line x1="171.425" y1="668.7" x2="171.425" y2="669.9000000000001" stroke="#555" stroke-width="0.6"/>
<line x1="173.7375" y1="668.7" x2="173.7375" y2="669.9000000000001" stroke="#555" stroke-width="0.6"/>
<line x1="181.2375" y1="668.7" x2="181.2375" y2="669.9000000000001" stroke="#555" stroke-width="0.6"/>
<line x1="186.425" y1="668.7" x2="186.425" y2="669.9000000000001" stroke="#555" stroke-width="0.6"/>
<line x1="191.6125" y1="668.7" x2="191.6125" y2="669.9000000000001" stroke="#555" stroke-width="0.6"/>
<line x1="201.6125" y1="668.7" x2="201.6125" y2="669.9000000000001" stroke="#555" stroke-width="0.6"/>
<line x1="206.425" y1="668.7" x2="206.425" y2="669.9000000000001" stroke="#555" stroke-width="0.6"/>
<line x1="211.2375" y1="668.7" x2="211.2375" y2="669.9000000000001" stroke="#555" stroke-width="0.6"/>
<text x="142.8" y="601.55" font-size="6.2" text-anchor="end" fill="#231f20" stroke="#231f20" stroke-width="0.18">250K</text>
<text x="142.8" y="615.3" font-size="6.2" text-anchor="end" fill="#231f20" stroke="#231f20" stroke-width="0.18">200K</text>
<text x="142.8" y="629.8" font-size="6.2" text-anchor="end" fill="#231f20" stroke="#231f20" stroke-width="0.18">150K</text>
<text x="142.8" y="644.05" font-size="6.2" text-anchor="end" fill="#231f20" stroke="#231f20" stroke-width="0.18">100K</text>
<text x="142.8" y="658.05" font-size="6.2" text-anchor="end" fill="#231f20" stroke="#231f20" stroke-width="0.18">50K</text>
<text x="142.8" y="671.05" font-size="6.2" text-anchor="end" fill="#231f20" stroke="#231f20" stroke-width="0.18">0</text>
<text x="153.3" y="680" font-size="6.2" text-anchor="middle" fill="#231f20" stroke="#231f20" stroke-width="0.18">−10<tspan dy="-2.6" font-size="4.3">3</tspan></text>
<text x="166.8" y="680" font-size="6.2" text-anchor="middle" fill="#231f20" stroke="#231f20" stroke-width="0.18">0</text>
<text x="176.05" y="680" font-size="6.2" text-anchor="middle" fill="#231f20" stroke="#231f20" stroke-width="0.18">10<tspan dy="-2.6" font-size="4.3">3</tspan></text>
<text x="196.8" y="680" font-size="6.2" text-anchor="middle" fill="#231f20" stroke="#231f20" stroke-width="0.18">10<tspan dy="-2.6" font-size="4.3">4</tspan></text>
<text x="216.05" y="680" font-size="6.2" text-anchor="middle" fill="#231f20" stroke="#231f20" stroke-width="0.18">10<tspan dy="-2.6" font-size="4.3">5</tspan></text>
<rect x="58.5" y="445.6" width="2.6" height="1.4" fill="#111" stroke="none" stroke-width="1"/>
<rect x="158.5" y="445.6" width="2.6" height="1.4" fill="#111" stroke="none" stroke-width="1"/>
<rect x="61.8" y="557" width="3" height="1.5" fill="#111" stroke="none" stroke-width="1"/>
<rect x="163.8" y="557" width="3" height="1.5" fill="#111" stroke="none" stroke-width="1"/>
<rect x="62.3" y="669.2" width="2.8" height="1.5" fill="#111" stroke="none" stroke-width="1"/>
<rect x="164.5" y="669.2" width="2.6" height="1.5" fill="#111" stroke="none" stroke-width="1"/>
<rect x="40.8" y="426.8" width="1.6" height="3" fill="#111" stroke="none" stroke-width="1"/>
<rect x="140.7" y="426.8" width="1.6" height="3" fill="#111" stroke="none" stroke-width="1"/>
<text x="91.8" y="495.7" font-size="6.4" text-anchor="middle" fill="#231f20" stroke="#231f20" stroke-width="0.18">11.5%</text>
<text x="195.6" y="495.7" font-size="6.4" text-anchor="middle" fill="#231f20" stroke="#231f20" stroke-width="0.18">29.3%</text>
<text x="96.6" y="610.2" font-size="6.4" text-anchor="middle" fill="#231f20" stroke="#231f20" stroke-width="0.18">20.9%</text>
<text x="200.6" y="610.2" font-size="6.4" text-anchor="middle" fill="#231f20" stroke="#231f20" stroke-width="0.18">63.4%</text>
</svg></body></html>
